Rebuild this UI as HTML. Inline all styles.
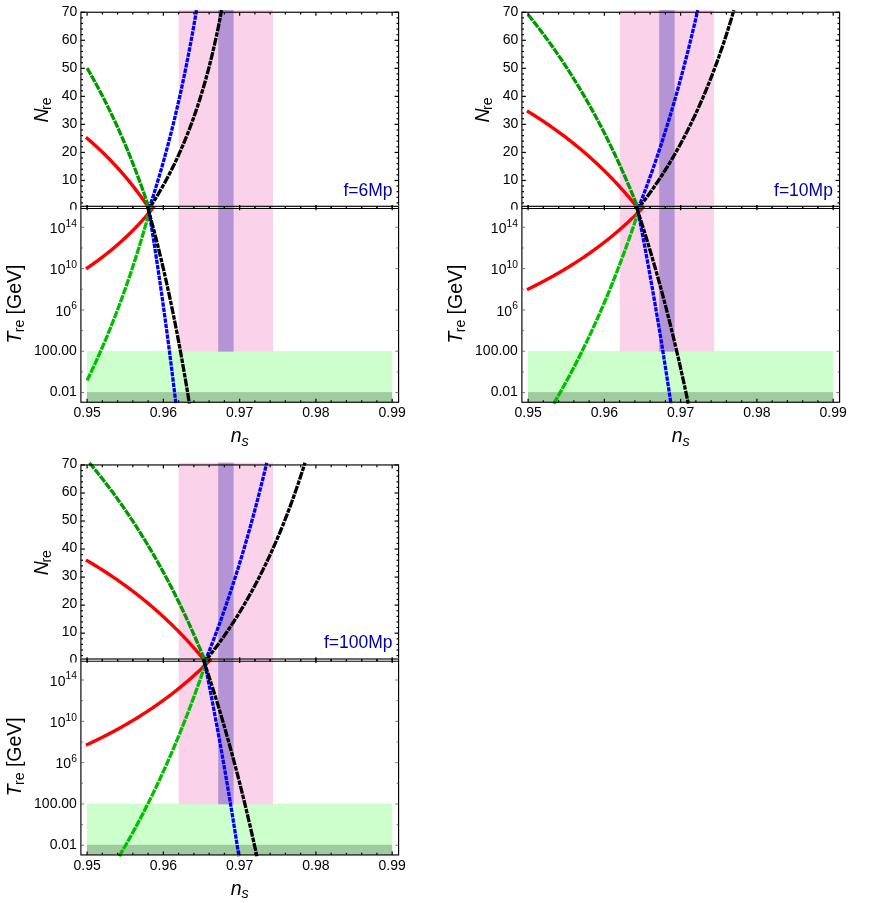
<!DOCTYPE html>
<html><head><meta charset="utf-8"><title>Reheating plots</title>
<style>
html,body{margin:0;padding:0;background:#fff;}
svg{display:block;will-change:transform;font-family:"Liberation Sans",sans-serif;}

</style></head><body>
<svg width="872" height="903" viewBox="0 0 872 903">
<rect width="872" height="903" fill="#fff"/>
<g transform="translate(0.00,0.00)">
<rect x="178.7" y="10" width="94.3" height="198.50" fill="#fad2ea"/>
<rect x="218.2" y="10" width="15.4" height="198.50" fill="#b494d5"/>
<path d="M85.96 137.32 L86.34 137.64 L86.72 137.97 L87.10 138.30 L87.49 138.62 L87.87 138.95 L88.25 139.28 L88.64 139.61 L89.02 139.95 L89.40 140.28 L89.78 140.61 L90.17 140.95 L90.55 141.29 L90.93 141.62 L91.31 141.96 L91.70 142.30 L92.08 142.64 L92.46 142.98 L92.85 143.32 L93.23 143.67 L93.61 144.01 L93.99 144.36 L94.38 144.70 L94.76 145.05 L95.14 145.40 L95.53 145.75 L95.91 146.10 L96.29 146.45 L96.67 146.80 L97.06 147.16 L97.44 147.51 L97.82 147.87 L98.20 148.22 L98.59 148.58 L98.97 148.94 L99.35 149.30 L99.74 149.66 L100.12 150.03 L100.50 150.39 L100.88 150.75 L101.27 151.12 L101.65 151.49 L102.03 151.86 L102.42 152.23 L102.80 152.60 L103.18 152.97 L103.56 153.34 L103.95 153.72 L104.33 154.09 L104.71 154.47 L105.09 154.84 L105.48 155.22 L105.86 155.60 L106.24 155.99 L106.63 156.37 L107.01 156.75 L107.39 157.14 L107.77 157.52 L108.16 157.91 L108.54 158.30 L108.92 158.69 L109.31 159.08 L109.69 159.47 L110.07 159.87 L110.45 160.26 L110.84 160.66 L111.22 161.06 L111.60 161.46 L111.98 161.86 L112.37 162.26 L112.75 162.66 L113.13 163.07 L113.52 163.47 L113.90 163.88 L114.28 164.29 L114.66 164.70 L115.05 165.11 L115.43 165.52 L115.81 165.94 L116.20 166.35 L116.58 166.77 L116.96 167.19 L117.34 167.61 L117.73 168.03 L118.11 168.45 L118.49 168.87 L118.88 169.30 L119.26 169.73 L119.64 170.16 L120.02 170.59 L120.41 171.02 L120.79 171.45 L121.17 171.89 L121.55 172.32 L121.94 172.76 L122.32 173.20 L122.70 173.64 L123.09 174.08 L123.47 174.53 L123.85 174.97 L124.23 175.42 L124.62 175.87 L125.00 176.32 L125.38 176.77 L125.77 177.22 L126.15 177.68 L126.53 178.14 L126.91 178.59 L127.30 179.05 L127.68 179.52 L128.06 179.98 L128.44 180.44 L128.83 180.91 L129.21 181.38 L129.59 181.85 L129.98 182.32 L130.36 182.80 L130.74 183.27 L131.12 183.75 L131.51 184.23 L131.89 184.71 L132.27 185.19 L132.66 185.68 L133.04 186.17 L133.42 186.65 L133.80 187.14 L134.19 187.64 L134.57 188.13 L134.95 188.63 L135.33 189.12 L135.72 189.62 L136.10 190.13 L136.48 190.63 L136.87 191.14 L137.25 191.64 L137.63 192.15 L138.01 192.66 L138.40 193.18 L138.78 193.69 L139.16 194.21 L139.55 194.73 L139.93 195.25 L140.31 195.78 L140.69 196.30 L141.08 196.83 L141.46 197.36 L141.84 197.89 L142.22 198.43 L142.61 198.97 L142.99 199.51 L143.37 200.05 L143.76 200.59 L144.14 201.14 L144.52 201.68 L144.90 202.23 L145.29 202.79 L145.67 203.34 L146.05 203.90 L146.44 204.46 L146.82 205.02 L147.20 205.58 L147.58 206.15 L147.97 206.72 L148.35 207.29 L148.73 207.86 L149.11 208.44 L149.15 208.50" fill="none" stroke="#ff0000" stroke-width="3.4"/>
<path d="M87.10 68.08 L87.48 68.74 L87.86 69.39 L88.24 70.05 L88.63 70.71 L89.01 71.37 L89.39 72.04 L89.77 72.70 L90.15 73.37 L90.53 74.04 L90.91 74.71 L91.29 75.39 L91.68 76.06 L92.06 76.74 L92.44 77.42 L92.82 78.10 L93.20 78.79 L93.58 79.47 L93.96 80.16 L94.35 80.85 L94.73 81.54 L95.11 82.23 L95.49 82.93 L95.87 83.63 L96.25 84.33 L96.63 85.03 L97.02 85.74 L97.40 86.44 L97.78 87.15 L98.16 87.86 L98.54 88.58 L98.92 89.29 L99.30 90.01 L99.68 90.73 L100.07 91.45 L100.45 92.18 L100.83 92.90 L101.21 93.63 L101.59 94.36 L101.97 95.10 L102.35 95.83 L102.74 96.57 L103.12 97.31 L103.50 98.05 L103.88 98.80 L104.26 99.55 L104.64 100.30 L105.02 101.05 L105.40 101.80 L105.79 102.56 L106.17 103.32 L106.55 104.08 L106.93 104.84 L107.31 105.61 L107.69 106.38 L108.07 107.15 L108.46 107.93 L108.84 108.70 L109.22 109.48 L109.60 110.26 L109.98 111.05 L110.36 111.84 L110.74 112.62 L111.13 113.42 L111.51 114.21 L111.89 115.01 L112.27 115.81 L112.65 116.61 L113.03 117.42 L113.41 118.22 L113.79 119.04 L114.18 119.85 L114.56 120.66 L114.94 121.48 L115.32 122.31 L115.70 123.13 L116.08 123.96 L116.46 124.79 L116.85 125.62 L117.23 126.46 L117.61 127.29 L117.99 128.14 L118.37 128.98 L118.75 129.83 L119.13 130.68 L119.51 131.53 L119.90 132.39 L120.28 133.24 L120.66 134.11 L121.04 134.97 L121.42 135.84 L121.80 136.71 L122.18 137.59 L122.57 138.46 L122.95 139.34 L123.33 140.23 L123.71 141.11 L124.09 142.00 L124.47 142.90 L124.85 143.79 L125.24 144.69 L125.62 145.59 L126.00 146.50 L126.38 147.41 L126.76 148.32 L127.14 149.24 L127.52 150.16 L127.90 151.08 L128.29 152.00 L128.67 152.93 L129.05 153.86 L129.43 154.80 L129.81 155.74 L130.19 156.68 L130.57 157.63 L130.96 158.58 L131.34 159.53 L131.72 160.49 L132.10 161.45 L132.48 162.42 L132.86 163.38 L133.24 164.36 L133.62 165.33 L134.01 166.31 L134.39 167.29 L134.77 168.28 L135.15 169.27 L135.53 170.26 L135.91 171.26 L136.29 172.26 L136.68 173.27 L137.06 174.28 L137.44 175.29 L137.82 176.31 L138.20 177.33 L138.58 178.36 L138.96 179.39 L139.34 180.42 L139.73 181.46 L140.11 182.50 L140.49 183.55 L140.87 184.60 L141.25 185.65 L141.63 186.71 L142.01 187.77 L142.40 188.84 L142.78 189.91 L143.16 190.99 L143.54 192.07 L143.92 193.15 L144.30 194.24 L144.68 195.33 L145.07 196.43 L145.45 197.53 L145.83 198.64 L146.21 199.75 L146.59 200.87 L146.97 201.99 L147.35 203.12 L147.73 204.25 L148.12 205.38 L148.50 206.52 L148.88 207.67 L149.15 208.50" fill="none" stroke="#009900" stroke-width="3.3" stroke-dasharray="7.5 1.0"/>
<path d="M149.15 208.50 L149.41 207.72 L149.72 206.79 L150.02 205.87 L150.33 204.93 L150.63 204.00 L150.94 203.06 L151.24 202.12 L151.55 201.18 L151.85 200.23 L152.16 199.28 L152.46 198.32 L152.77 197.37 L153.07 196.40 L153.38 195.44 L153.68 194.47 L153.99 193.50 L154.29 192.53 L154.60 191.55 L154.90 190.56 L155.21 189.58 L155.51 188.59 L155.82 187.60 L156.12 186.60 L156.43 185.60 L156.73 184.60 L157.04 183.59 L157.34 182.58 L157.65 181.57 L157.95 180.55 L158.26 179.53 L158.56 178.50 L158.87 177.47 L159.18 176.44 L159.48 175.40 L159.79 174.36 L160.09 173.32 L160.40 172.27 L160.70 171.21 L161.01 170.16 L161.31 169.10 L161.62 168.03 L161.92 166.96 L162.23 165.89 L162.53 164.81 L162.84 163.73 L163.14 162.65 L163.45 161.56 L163.75 160.46 L164.06 159.37 L164.36 158.26 L164.67 157.16 L164.97 156.05 L165.28 154.93 L165.58 153.81 L165.89 152.69 L166.19 151.56 L166.50 150.43 L166.80 149.29 L167.11 148.15 L167.41 147.00 L167.72 145.85 L168.02 144.69 L168.33 143.53 L168.63 142.37 L168.94 141.20 L169.24 140.02 L169.55 138.84 L169.85 137.66 L170.16 136.47 L170.46 135.27 L170.77 134.08 L171.07 132.87 L171.38 131.66 L171.68 130.45 L171.99 129.23 L172.29 128.00 L172.60 126.77 L172.90 125.54 L173.21 124.30 L173.51 123.05 L173.82 121.80 L174.12 120.55 L174.43 119.28 L174.73 118.02 L175.04 116.75 L175.34 115.47 L175.65 114.18 L175.95 112.89 L176.26 111.60 L176.56 110.30 L176.87 108.99 L177.17 107.68 L177.48 106.36 L177.79 105.04 L178.09 103.71 L178.40 102.37 L178.70 101.03 L179.01 99.68 L179.31 98.33 L179.62 96.97 L179.92 95.60 L180.23 94.23 L180.53 92.85 L180.84 91.46 L181.14 90.07 L181.45 88.67 L181.75 87.27 L182.06 85.85 L182.36 84.44 L182.67 83.01 L182.97 81.58 L183.28 80.14 L183.58 78.69 L183.89 77.24 L184.19 75.78 L184.50 74.32 L184.80 72.84 L185.11 71.36 L185.41 69.87 L185.72 68.38 L186.02 66.87 L186.33 65.36 L186.63 63.85 L186.94 62.32 L187.24 60.79 L187.55 59.25 L187.85 57.70 L188.16 56.14 L188.46 54.58 L188.77 53.01 L189.07 51.43 L189.38 49.84 L189.68 48.24 L189.99 46.64 L190.29 45.02 L190.60 43.40 L190.90 41.77 L191.21 40.13 L191.51 38.48 L191.82 36.83 L192.12 35.16 L192.43 33.49 L192.73 31.80 L193.04 30.11 L193.34 28.41 L193.65 26.70 L193.95 24.98 L194.26 23.25 L194.56 21.51 L194.87 19.76 L195.17 18.00 L195.48 16.23 L195.78 14.45 L196.09 12.66 L196.39 10.87 L196.52 10.15" fill="none" stroke="#0000ff" stroke-width="3.3" stroke-dasharray="4.4 1.0"/>
<path d="M149.15 208.50 L149.57 207.88 L150.02 207.18 L150.48 206.48 L150.94 205.78 L151.40 205.07 L151.85 204.36 L152.31 203.65 L152.77 202.93 L153.23 202.21 L153.68 201.49 L154.14 200.76 L154.60 200.02 L155.06 199.29 L155.51 198.55 L155.97 197.80 L156.43 197.05 L156.89 196.30 L157.34 195.54 L157.80 194.78 L158.26 194.01 L158.72 193.24 L159.18 192.47 L159.63 191.69 L160.09 190.91 L160.55 190.12 L161.01 189.33 L161.46 188.53 L161.92 187.73 L162.38 186.93 L162.84 186.12 L163.29 185.30 L163.75 184.48 L164.21 183.66 L164.67 182.83 L165.12 181.99 L165.58 181.16 L166.04 180.31 L166.50 179.46 L166.95 178.61 L167.41 177.75 L167.87 176.89 L168.33 176.02 L168.79 175.14 L169.24 174.26 L169.70 173.38 L170.16 172.48 L170.62 171.59 L171.07 170.69 L171.53 169.78 L171.99 168.86 L172.45 167.94 L172.90 167.02 L173.36 166.09 L173.82 165.15 L174.28 164.21 L174.73 163.26 L175.19 162.30 L175.65 161.34 L176.11 160.37 L176.56 159.40 L177.02 158.42 L177.48 157.43 L177.94 156.44 L178.40 155.44 L178.85 154.43 L179.31 153.41 L179.77 152.39 L180.23 151.36 L180.68 150.33 L181.14 149.29 L181.60 148.23 L182.06 147.18 L182.51 146.11 L182.97 145.04 L183.43 143.96 L183.89 142.87 L184.34 141.78 L184.80 140.67 L185.26 139.56 L185.72 138.44 L186.17 137.31 L186.63 136.17 L187.09 135.03 L187.55 133.87 L188.01 132.71 L188.46 131.54 L188.92 130.36 L189.38 129.17 L189.84 127.97 L190.29 126.76 L190.75 125.54 L191.21 124.32 L191.67 123.08 L192.12 121.83 L192.58 120.57 L193.04 119.31 L193.50 118.03 L193.95 116.74 L194.41 115.44 L194.87 114.13 L195.33 112.81 L195.78 111.48 L196.24 110.13 L196.70 108.78 L197.16 107.41 L197.62 106.03 L198.07 104.64 L198.53 103.24 L198.99 101.82 L199.45 100.40 L199.90 98.96 L200.36 97.50 L200.82 96.03 L201.28 94.55 L201.73 93.06 L202.19 91.55 L202.65 90.03 L203.11 88.49 L203.56 86.94 L204.02 85.37 L204.48 83.79 L204.94 82.19 L205.39 80.58 L205.85 78.95 L206.31 77.31 L206.77 75.64 L207.23 73.97 L207.68 72.27 L208.14 70.56 L208.60 68.82 L209.06 67.07 L209.51 65.30 L209.97 63.52 L210.43 61.71 L210.89 59.88 L211.34 58.03 L211.80 56.17 L212.26 54.28 L212.72 52.37 L213.17 50.44 L213.63 48.48 L214.09 46.50 L214.55 44.50 L215.00 42.48 L215.46 40.43 L215.92 38.35 L216.38 36.25 L216.84 34.13 L217.29 31.98 L217.75 29.80 L218.21 27.59 L218.67 25.35 L219.12 23.09 L219.58 20.79 L220.04 18.46 L220.50 16.10 L220.95 13.71 L221.41 11.29 L221.62 10.15" fill="none" stroke="#000000" stroke-width="3.3" stroke-dasharray="8.0 1.1 4.5 1.1"/>
<rect x="80.90" y="12.25" width="317.70" height="196.25" fill="none" stroke="#000" stroke-width="1.15"/>
<g stroke="#000" stroke-width="1.2"><line x1="87.10" y1="12.25" x2="87.10" y2="15.85"/><line x1="102.35" y1="12.25" x2="102.35" y2="14.45"/><line x1="117.61" y1="12.25" x2="117.61" y2="14.45"/><line x1="132.86" y1="12.25" x2="132.86" y2="14.45"/><line x1="148.12" y1="12.25" x2="148.12" y2="14.45"/><line x1="163.37" y1="12.25" x2="163.37" y2="15.85"/><line x1="178.62" y1="12.25" x2="178.62" y2="14.45"/><line x1="193.88" y1="12.25" x2="193.88" y2="14.45"/><line x1="209.13" y1="12.25" x2="209.13" y2="14.45"/><line x1="224.39" y1="12.25" x2="224.39" y2="14.45"/><line x1="239.64" y1="12.25" x2="239.64" y2="15.85"/><line x1="254.89" y1="12.25" x2="254.89" y2="14.45"/><line x1="270.15" y1="12.25" x2="270.15" y2="14.45"/><line x1="285.40" y1="12.25" x2="285.40" y2="14.45"/><line x1="300.66" y1="12.25" x2="300.66" y2="14.45"/><line x1="315.91" y1="12.25" x2="315.91" y2="15.85"/><line x1="331.16" y1="12.25" x2="331.16" y2="14.45"/><line x1="346.42" y1="12.25" x2="346.42" y2="14.45"/><line x1="361.67" y1="12.25" x2="361.67" y2="14.45"/><line x1="376.93" y1="12.25" x2="376.93" y2="14.45"/><line x1="392.18" y1="12.25" x2="392.18" y2="15.85"/></g>
<g stroke="#000" stroke-width="1.2"><line x1="87.10" y1="208.50" x2="87.10" y2="204.90"/><line x1="102.35" y1="208.50" x2="102.35" y2="206.30"/><line x1="117.61" y1="208.50" x2="117.61" y2="206.30"/><line x1="132.86" y1="208.50" x2="132.86" y2="206.30"/><line x1="148.12" y1="208.50" x2="148.12" y2="206.30"/><line x1="163.37" y1="208.50" x2="163.37" y2="204.90"/><line x1="178.62" y1="208.50" x2="178.62" y2="206.30"/><line x1="193.88" y1="208.50" x2="193.88" y2="206.30"/><line x1="209.13" y1="208.50" x2="209.13" y2="206.30"/><line x1="224.39" y1="208.50" x2="224.39" y2="206.30"/><line x1="239.64" y1="208.50" x2="239.64" y2="204.90"/><line x1="254.89" y1="208.50" x2="254.89" y2="206.30"/><line x1="270.15" y1="208.50" x2="270.15" y2="206.30"/><line x1="285.40" y1="208.50" x2="285.40" y2="206.30"/><line x1="300.66" y1="208.50" x2="300.66" y2="206.30"/><line x1="315.91" y1="208.50" x2="315.91" y2="204.90"/><line x1="331.16" y1="208.50" x2="331.16" y2="206.30"/><line x1="346.42" y1="208.50" x2="346.42" y2="206.30"/><line x1="361.67" y1="208.50" x2="361.67" y2="206.30"/><line x1="376.93" y1="208.50" x2="376.93" y2="206.30"/><line x1="392.18" y1="208.50" x2="392.18" y2="204.90"/></g>
<g stroke="#000" stroke-width="1.2"><line x1="80.90" y1="208.50" x2="84.90" y2="208.50"/><line x1="80.90" y1="202.89" x2="83.00" y2="202.89"/><line x1="80.90" y1="197.29" x2="83.00" y2="197.29"/><line x1="80.90" y1="191.68" x2="83.00" y2="191.68"/><line x1="80.90" y1="186.07" x2="83.00" y2="186.07"/><line x1="80.90" y1="180.46" x2="84.90" y2="180.46"/><line x1="80.90" y1="174.86" x2="83.00" y2="174.86"/><line x1="80.90" y1="169.25" x2="83.00" y2="169.25"/><line x1="80.90" y1="163.64" x2="83.00" y2="163.64"/><line x1="80.90" y1="158.04" x2="83.00" y2="158.04"/><line x1="80.90" y1="152.43" x2="84.90" y2="152.43"/><line x1="80.90" y1="146.82" x2="83.00" y2="146.82"/><line x1="80.90" y1="141.21" x2="83.00" y2="141.21"/><line x1="80.90" y1="135.61" x2="83.00" y2="135.61"/><line x1="80.90" y1="130.00" x2="83.00" y2="130.00"/><line x1="80.90" y1="124.39" x2="84.90" y2="124.39"/><line x1="80.90" y1="118.79" x2="83.00" y2="118.79"/><line x1="80.90" y1="113.18" x2="83.00" y2="113.18"/><line x1="80.90" y1="107.57" x2="83.00" y2="107.57"/><line x1="80.90" y1="101.96" x2="83.00" y2="101.96"/><line x1="80.90" y1="96.36" x2="84.90" y2="96.36"/><line x1="80.90" y1="90.75" x2="83.00" y2="90.75"/><line x1="80.90" y1="85.14" x2="83.00" y2="85.14"/><line x1="80.90" y1="79.54" x2="83.00" y2="79.54"/><line x1="80.90" y1="73.93" x2="83.00" y2="73.93"/><line x1="80.90" y1="68.32" x2="84.90" y2="68.32"/><line x1="80.90" y1="62.71" x2="83.00" y2="62.71"/><line x1="80.90" y1="57.11" x2="83.00" y2="57.11"/><line x1="80.90" y1="51.50" x2="83.00" y2="51.50"/><line x1="80.90" y1="45.89" x2="83.00" y2="45.89"/><line x1="80.90" y1="40.29" x2="84.90" y2="40.29"/><line x1="80.90" y1="34.68" x2="83.00" y2="34.68"/><line x1="80.90" y1="29.07" x2="83.00" y2="29.07"/><line x1="80.90" y1="23.46" x2="83.00" y2="23.46"/><line x1="80.90" y1="17.86" x2="83.00" y2="17.86"/><line x1="80.90" y1="12.25" x2="84.90" y2="12.25"/></g>
<g stroke="#000" stroke-width="1.2"><line x1="398.60" y1="208.50" x2="394.60" y2="208.50"/><line x1="398.60" y1="202.89" x2="396.50" y2="202.89"/><line x1="398.60" y1="197.29" x2="396.50" y2="197.29"/><line x1="398.60" y1="191.68" x2="396.50" y2="191.68"/><line x1="398.60" y1="186.07" x2="396.50" y2="186.07"/><line x1="398.60" y1="180.46" x2="394.60" y2="180.46"/><line x1="398.60" y1="174.86" x2="396.50" y2="174.86"/><line x1="398.60" y1="169.25" x2="396.50" y2="169.25"/><line x1="398.60" y1="163.64" x2="396.50" y2="163.64"/><line x1="398.60" y1="158.04" x2="396.50" y2="158.04"/><line x1="398.60" y1="152.43" x2="394.60" y2="152.43"/><line x1="398.60" y1="146.82" x2="396.50" y2="146.82"/><line x1="398.60" y1="141.21" x2="396.50" y2="141.21"/><line x1="398.60" y1="135.61" x2="396.50" y2="135.61"/><line x1="398.60" y1="130.00" x2="396.50" y2="130.00"/><line x1="398.60" y1="124.39" x2="394.60" y2="124.39"/><line x1="398.60" y1="118.79" x2="396.50" y2="118.79"/><line x1="398.60" y1="113.18" x2="396.50" y2="113.18"/><line x1="398.60" y1="107.57" x2="396.50" y2="107.57"/><line x1="398.60" y1="101.96" x2="396.50" y2="101.96"/><line x1="398.60" y1="96.36" x2="394.60" y2="96.36"/><line x1="398.60" y1="90.75" x2="396.50" y2="90.75"/><line x1="398.60" y1="85.14" x2="396.50" y2="85.14"/><line x1="398.60" y1="79.54" x2="396.50" y2="79.54"/><line x1="398.60" y1="73.93" x2="396.50" y2="73.93"/><line x1="398.60" y1="68.32" x2="394.60" y2="68.32"/><line x1="398.60" y1="62.71" x2="396.50" y2="62.71"/><line x1="398.60" y1="57.11" x2="396.50" y2="57.11"/><line x1="398.60" y1="51.50" x2="396.50" y2="51.50"/><line x1="398.60" y1="45.89" x2="396.50" y2="45.89"/><line x1="398.60" y1="40.29" x2="394.60" y2="40.29"/><line x1="398.60" y1="34.68" x2="396.50" y2="34.68"/><line x1="398.60" y1="29.07" x2="396.50" y2="29.07"/><line x1="398.60" y1="23.46" x2="396.50" y2="23.46"/><line x1="398.60" y1="17.86" x2="396.50" y2="17.86"/><line x1="398.60" y1="12.25" x2="394.60" y2="12.25"/></g>
<text x="77.3" y="211.80" text-anchor="end" font-size="14">0</text>
<text x="77.3" y="183.80" text-anchor="end" font-size="14">10</text>
<text x="77.3" y="155.80" text-anchor="end" font-size="14">20</text>
<text x="77.3" y="127.80" text-anchor="end" font-size="14">30</text>
<text x="77.3" y="99.80" text-anchor="end" font-size="14">40</text>
<text x="77.3" y="71.80" text-anchor="end" font-size="14">50</text>
<text x="77.3" y="43.80" text-anchor="end" font-size="14">60</text>
<text x="77.3" y="15.80" text-anchor="end" font-size="14">70</text>
<text x="392.6" y="195.7" text-anchor="end" font-size="17.5" fill="#0000a8">f=6Mp</text>
<text transform="translate(47.5,110) rotate(-90)" text-anchor="middle" font-size="19.5"><tspan font-style="italic">N</tspan><tspan font-size="14" dx="-1.4" dy="3.7">re</tspan></text>
<rect x="80.3" y="205.70" width="345" height="250.00" fill="#fff"/>
<rect x="0" y="209.7" width="81" height="246" fill="#fff"/>
<rect x="87.00" y="350.90" width="305.20" height="51.35" fill="#ccffcc"/>
<rect x="87.00" y="392.10" width="305.20" height="10.15" fill="#a0cba0"/>
<rect x="178.7" y="206.30" width="94.3" height="145.30" fill="#fad2ea"/>
<rect x="218.2" y="206.30" width="15.4" height="145.30" fill="#b494d5"/>
<path d="M85.96 268.88 L86.38 268.59 L86.80 268.31 L87.22 268.02 L87.64 267.74 L88.06 267.45 L88.48 267.16 L88.90 266.88 L89.32 266.59 L89.75 266.30 L90.17 266.00 L90.59 265.71 L91.01 265.42 L91.43 265.13 L91.85 264.83 L92.27 264.53 L92.69 264.24 L93.11 263.94 L93.53 263.64 L93.96 263.34 L94.38 263.04 L94.80 262.74 L95.22 262.43 L95.64 262.13 L96.06 261.83 L96.48 261.52 L96.90 261.21 L97.32 260.90 L97.75 260.59 L98.17 260.28 L98.59 259.97 L99.01 259.66 L99.43 259.35 L99.85 259.03 L100.27 258.72 L100.69 258.40 L101.11 258.08 L101.54 257.76 L101.96 257.44 L102.38 257.12 L102.80 256.80 L103.22 256.48 L103.64 256.15 L104.06 255.83 L104.48 255.50 L104.90 255.17 L105.32 254.84 L105.75 254.51 L106.17 254.18 L106.59 253.85 L107.01 253.52 L107.43 253.18 L107.85 252.85 L108.27 252.51 L108.69 252.17 L109.11 251.83 L109.54 251.49 L109.96 251.15 L110.38 250.80 L110.80 250.46 L111.22 250.11 L111.64 249.77 L112.06 249.42 L112.48 249.07 L112.90 248.72 L113.32 248.36 L113.75 248.01 L114.17 247.66 L114.59 247.30 L115.01 246.94 L115.43 246.58 L115.85 246.22 L116.27 245.86 L116.69 245.50 L117.11 245.13 L117.54 244.77 L117.96 244.40 L118.38 244.03 L118.80 243.66 L119.22 243.29 L119.64 242.92 L120.06 242.54 L120.48 242.17 L120.90 241.79 L121.32 241.41 L121.75 241.03 L122.17 240.65 L122.59 240.27 L123.01 239.88 L123.43 239.50 L123.85 239.11 L124.27 238.72 L124.69 238.33 L125.11 237.94 L125.54 237.54 L125.96 237.15 L126.38 236.75 L126.80 236.35 L127.22 235.95 L127.64 235.55 L128.06 235.15 L128.48 234.74 L128.90 234.34 L129.32 233.93 L129.75 233.52 L130.17 233.11 L130.59 232.69 L131.01 232.28 L131.43 231.86 L131.85 231.44 L132.27 231.02 L132.69 230.60 L133.11 230.18 L133.54 229.75 L133.96 229.32 L134.38 228.90 L134.80 228.46 L135.22 228.03 L135.64 227.60 L136.06 227.16 L136.48 226.72 L136.90 226.28 L137.33 225.84 L137.75 225.40 L138.17 224.95 L138.59 224.50 L139.01 224.05 L139.43 223.60 L139.85 223.15 L140.27 222.69 L140.69 222.23 L141.11 221.77 L141.54 221.31 L141.96 220.85 L142.38 220.38 L142.80 219.91 L143.22 219.44 L143.64 218.97 L144.06 218.50 L144.48 218.02 L144.90 217.54 L145.33 217.06 L145.75 216.58 L146.17 216.09 L146.59 215.60 L147.01 215.11 L147.43 214.62 L147.85 214.12 L148.27 213.63 L148.69 213.13 L149.11 212.63 L149.54 212.12 L149.96 211.62 L150.38 211.11 L150.80 210.60 L151.22 210.08 L151.64 209.57 L152.06 209.05 L152.48 208.53 L152.90 208.00 L153.33 207.48 L153.75 206.95 L154.17 206.42 L154.26 206.30" fill="none" stroke="#ff0000" stroke-width="3.4"/>
<path d="M87.10 380.42 L87.52 379.56 L87.94 378.70 L88.36 377.84 L88.78 376.97 L89.20 376.10 L89.62 375.22 L90.04 374.35 L90.46 373.47 L90.88 372.58 L91.29 371.70 L91.71 370.81 L92.13 369.92 L92.55 369.02 L92.97 368.13 L93.39 367.23 L93.81 366.32 L94.23 365.42 L94.65 364.51 L95.07 363.60 L95.49 362.68 L95.91 361.76 L96.33 360.84 L96.75 359.92 L97.17 358.99 L97.59 358.06 L98.01 357.13 L98.43 356.19 L98.85 355.25 L99.27 354.31 L99.68 353.36 L100.10 352.41 L100.52 351.46 L100.94 350.50 L101.36 349.54 L101.78 348.58 L102.20 347.62 L102.62 346.65 L103.04 345.67 L103.46 344.70 L103.88 343.72 L104.30 342.74 L104.72 341.75 L105.14 340.76 L105.56 339.77 L105.98 338.77 L106.40 337.77 L106.82 336.77 L107.24 335.76 L107.65 334.75 L108.07 333.74 L108.49 332.72 L108.91 331.70 L109.33 330.67 L109.75 329.64 L110.17 328.61 L110.59 327.57 L111.01 326.53 L111.43 325.49 L111.85 324.44 L112.27 323.39 L112.69 322.33 L113.11 321.27 L113.53 320.21 L113.95 319.14 L114.37 318.07 L114.79 317.00 L115.21 315.92 L115.62 314.84 L116.04 313.75 L116.46 312.66 L116.88 311.56 L117.30 310.46 L117.72 309.36 L118.14 308.25 L118.56 307.14 L118.98 306.03 L119.40 304.90 L119.82 303.78 L120.24 302.65 L120.66 301.52 L121.08 300.38 L121.50 299.24 L121.92 298.09 L122.34 296.94 L122.76 295.79 L123.18 294.63 L123.60 293.46 L124.01 292.29 L124.43 291.12 L124.85 289.94 L125.27 288.76 L125.69 287.57 L126.11 286.38 L126.53 285.18 L126.95 283.98 L127.37 282.77 L127.79 281.56 L128.21 280.35 L128.63 279.13 L129.05 277.90 L129.47 276.67 L129.89 275.43 L130.31 274.19 L130.73 272.95 L131.15 271.69 L131.57 270.44 L131.98 269.18 L132.40 267.91 L132.82 266.64 L133.24 265.36 L133.66 264.08 L134.08 262.79 L134.50 261.49 L134.92 260.20 L135.34 258.89 L135.76 257.58 L136.18 256.27 L136.60 254.94 L137.02 253.62 L137.44 252.28 L137.86 250.95 L138.28 249.60 L138.70 248.25 L139.12 246.90 L139.54 245.53 L139.96 244.17 L140.37 242.79 L140.79 241.41 L141.21 240.03 L141.63 238.63 L142.05 237.24 L142.47 235.83 L142.89 234.42 L143.31 233.00 L143.73 231.58 L144.15 230.15 L144.57 228.71 L144.99 227.27 L145.41 225.82 L145.83 224.37 L146.25 222.90 L146.67 221.43 L147.09 219.96 L147.51 218.48 L147.93 216.99 L148.34 215.49 L148.76 213.98 L149.18 212.47 L149.60 210.96 L150.02 209.43 L150.44 207.90 L150.86 206.36 L150.88 206.30" fill="none" stroke="#00be00" stroke-width="3.3" stroke-dasharray="7.5 1.0"/>
<path d="M148.11 206.30 L148.23 207.02 L148.38 207.93 L148.54 208.85 L148.69 209.77 L148.84 210.68 L148.99 211.60 L149.15 212.53 L149.30 213.45 L149.45 214.37 L149.60 215.30 L149.76 216.23 L149.91 217.16 L150.06 218.09 L150.21 219.02 L150.37 219.96 L150.52 220.89 L150.67 221.83 L150.82 222.77 L150.98 223.71 L151.13 224.66 L151.28 225.60 L151.43 226.55 L151.59 227.49 L151.74 228.44 L151.89 229.39 L152.04 230.35 L152.20 231.30 L152.35 232.26 L152.50 233.21 L152.65 234.17 L152.81 235.13 L152.96 236.10 L153.11 237.06 L153.26 238.03 L153.42 238.99 L153.57 239.96 L153.72 240.93 L153.87 241.91 L154.03 242.88 L154.18 243.86 L154.33 244.84 L154.48 245.82 L154.64 246.80 L154.79 247.78 L154.94 248.77 L155.09 249.75 L155.25 250.74 L155.40 251.73 L155.55 252.72 L155.70 253.72 L155.86 254.71 L156.01 255.71 L156.16 256.71 L156.32 257.71 L156.47 258.71 L156.62 259.72 L156.77 260.73 L156.93 261.73 L157.08 262.74 L157.23 263.76 L157.38 264.77 L157.54 265.79 L157.69 266.80 L157.84 267.82 L157.99 268.85 L158.15 269.87 L158.30 270.89 L158.45 271.92 L158.60 272.95 L158.76 273.98 L158.91 275.01 L159.06 276.05 L159.21 277.08 L159.37 278.12 L159.52 279.16 L159.67 280.21 L159.82 281.25 L159.98 282.30 L160.13 283.35 L160.28 284.40 L160.43 285.45 L160.59 286.50 L160.74 287.56 L160.89 288.62 L161.04 289.68 L161.20 290.74 L161.35 291.80 L161.50 292.87 L161.65 293.94 L161.81 295.01 L161.96 296.08 L162.11 297.15 L162.26 298.23 L162.42 299.31 L162.57 300.39 L162.72 301.47 L162.87 302.56 L163.03 303.64 L163.18 304.73 L163.33 305.82 L163.48 306.92 L163.64 308.01 L163.79 309.11 L163.94 310.21 L164.09 311.31 L164.25 312.41 L164.40 313.52 L164.55 314.63 L164.70 315.74 L164.86 316.85 L165.01 317.96 L165.16 319.08 L165.31 320.20 L165.47 321.32 L165.62 322.44 L165.77 323.57 L165.93 324.70 L166.08 325.83 L166.23 326.96 L166.38 328.10 L166.54 329.23 L166.69 330.37 L166.84 331.51 L166.99 332.66 L167.15 333.80 L167.30 334.95 L167.45 336.10 L167.60 337.25 L167.76 338.41 L167.91 339.57 L168.06 340.73 L168.21 341.89 L168.37 343.05 L168.52 344.22 L168.67 345.39 L168.82 346.56 L168.98 347.73 L169.13 348.91 L169.28 350.09 L169.43 351.27 L169.59 352.45 L169.74 353.64 L169.89 354.83 L170.04 356.02 L170.20 357.21 L170.35 358.41 L170.50 359.61 L170.65 360.81 L170.81 362.01 L170.96 363.22 L171.11 364.42 L171.26 365.63 L171.42 366.85 L171.57 368.06 L171.72 369.28 L171.87 370.50 L172.03 371.73 L172.18 372.95 L172.33 374.18 L172.48 375.41 L172.64 376.65 L172.79 377.88 L172.94 379.12 L173.09 380.36 L173.25 381.61 L173.40 382.86 L173.55 384.11 L173.70 385.36 L173.86 386.61 L174.01 387.87 L174.16 389.13 L174.31 390.39 L174.47 391.66 L174.62 392.93 L174.77 394.20 L174.92 395.48 L175.08 396.75 L175.23 398.03 L175.38 399.31 L175.54 400.60 L175.69 401.89 L175.84 403.18 L175.88 403.55" fill="none" stroke="#0000ff" stroke-width="3.3" stroke-dasharray="4.4 1.0"/>
<path d="M147.41 206.30 L147.66 207.19 L147.93 208.14 L148.19 209.10 L148.46 210.06 L148.73 211.03 L148.99 211.99 L149.26 212.96 L149.53 213.94 L149.79 214.91 L150.06 215.89 L150.33 216.87 L150.59 217.86 L150.86 218.84 L151.13 219.83 L151.40 220.83 L151.66 221.82 L151.93 222.82 L152.20 223.83 L152.46 224.83 L152.73 225.84 L153.00 226.85 L153.26 227.87 L153.53 228.89 L153.80 229.91 L154.07 230.93 L154.33 231.96 L154.60 232.99 L154.87 234.03 L155.13 235.06 L155.40 236.10 L155.67 237.15 L155.93 238.19 L156.20 239.24 L156.47 240.30 L156.73 241.36 L157.00 242.42 L157.27 243.48 L157.54 244.55 L157.80 245.62 L158.07 246.69 L158.34 247.77 L158.60 248.85 L158.87 249.94 L159.14 251.02 L159.40 252.12 L159.67 253.21 L159.94 254.31 L160.20 255.41 L160.47 256.52 L160.74 257.63 L161.01 258.74 L161.27 259.86 L161.54 260.98 L161.81 262.10 L162.07 263.23 L162.34 264.36 L162.61 265.50 L162.87 266.64 L163.14 267.78 L163.41 268.93 L163.68 270.08 L163.94 271.24 L164.21 272.40 L164.48 273.56 L164.74 274.72 L165.01 275.90 L165.28 277.07 L165.54 278.25 L165.81 279.43 L166.08 280.62 L166.34 281.81 L166.61 283.01 L166.88 284.21 L167.15 285.41 L167.41 286.62 L167.68 287.83 L167.95 289.05 L168.21 290.27 L168.48 291.49 L168.75 292.72 L169.01 293.96 L169.28 295.20 L169.55 296.44 L169.81 297.69 L170.08 298.94 L170.35 300.19 L170.62 301.45 L170.88 302.72 L171.15 303.99 L171.42 305.26 L171.68 306.54 L171.95 307.83 L172.22 309.12 L172.48 310.41 L172.75 311.71 L173.02 313.01 L173.29 314.32 L173.55 315.63 L173.82 316.95 L174.09 318.27 L174.35 319.60 L174.62 320.93 L174.89 322.27 L175.15 323.61 L175.42 324.96 L175.69 326.31 L175.95 327.67 L176.22 329.04 L176.49 330.41 L176.76 331.78 L177.02 333.16 L177.29 334.54 L177.56 335.93 L177.82 337.33 L178.09 338.73 L178.36 340.14 L178.62 341.55 L178.89 342.97 L179.16 344.39 L179.42 345.82 L179.69 347.25 L179.96 348.69 L180.23 350.14 L180.49 351.59 L180.76 353.05 L181.03 354.52 L181.29 355.99 L181.56 357.46 L181.83 358.94 L182.09 360.43 L182.36 361.93 L182.63 363.43 L182.90 364.93 L183.16 366.45 L183.43 367.96 L183.70 369.49 L183.96 371.02 L184.23 372.56 L184.50 374.11 L184.76 375.66 L185.03 377.22 L185.30 378.78 L185.56 380.35 L185.83 381.93 L186.10 383.51 L186.37 385.11 L186.63 386.71 L186.90 388.31 L187.17 389.92 L187.43 391.54 L187.70 393.17 L187.97 394.81 L188.23 396.45 L188.50 398.10 L188.77 399.75 L189.03 401.42 L189.30 403.09 L189.38 403.55" fill="none" stroke="#000000" stroke-width="3.3" stroke-dasharray="8.0 1.1 4.5 1.1"/>
<rect x="80.90" y="206.30" width="317.70" height="195.95" fill="none" stroke="#000" stroke-width="1.15"/>
<line x1="80.90" y1="208.50" x2="398.60" y2="208.50" stroke="#000" stroke-width="1.15"/>
<g stroke="#000" stroke-width="1.2"><line x1="87.10" y1="208.50" x2="87.10" y2="204.90"/><line x1="102.35" y1="208.50" x2="102.35" y2="206.30"/><line x1="117.61" y1="208.50" x2="117.61" y2="206.30"/><line x1="132.86" y1="208.50" x2="132.86" y2="206.30"/><line x1="148.12" y1="208.50" x2="148.12" y2="206.30"/><line x1="163.37" y1="208.50" x2="163.37" y2="204.90"/><line x1="178.62" y1="208.50" x2="178.62" y2="206.30"/><line x1="193.88" y1="208.50" x2="193.88" y2="206.30"/><line x1="209.13" y1="208.50" x2="209.13" y2="206.30"/><line x1="224.39" y1="208.50" x2="224.39" y2="206.30"/><line x1="239.64" y1="208.50" x2="239.64" y2="204.90"/><line x1="254.89" y1="208.50" x2="254.89" y2="206.30"/><line x1="270.15" y1="208.50" x2="270.15" y2="206.30"/><line x1="285.40" y1="208.50" x2="285.40" y2="206.30"/><line x1="300.66" y1="208.50" x2="300.66" y2="206.30"/><line x1="315.91" y1="208.50" x2="315.91" y2="204.90"/><line x1="331.16" y1="208.50" x2="331.16" y2="206.30"/><line x1="346.42" y1="208.50" x2="346.42" y2="206.30"/><line x1="361.67" y1="208.50" x2="361.67" y2="206.30"/><line x1="376.93" y1="208.50" x2="376.93" y2="206.30"/><line x1="392.18" y1="208.50" x2="392.18" y2="204.90"/></g>
<g stroke="#000" stroke-width="1.2"><line x1="87.10" y1="206.30" x2="87.10" y2="210.30"/><line x1="102.35" y1="206.30" x2="102.35" y2="208.50"/><line x1="117.61" y1="206.30" x2="117.61" y2="208.50"/><line x1="132.86" y1="206.30" x2="132.86" y2="208.50"/><line x1="148.12" y1="206.30" x2="148.12" y2="208.50"/><line x1="163.37" y1="206.30" x2="163.37" y2="210.30"/><line x1="178.62" y1="206.30" x2="178.62" y2="208.50"/><line x1="193.88" y1="206.30" x2="193.88" y2="208.50"/><line x1="209.13" y1="206.30" x2="209.13" y2="208.50"/><line x1="224.39" y1="206.30" x2="224.39" y2="208.50"/><line x1="239.64" y1="206.30" x2="239.64" y2="210.30"/><line x1="254.89" y1="206.30" x2="254.89" y2="208.50"/><line x1="270.15" y1="206.30" x2="270.15" y2="208.50"/><line x1="285.40" y1="206.30" x2="285.40" y2="208.50"/><line x1="300.66" y1="206.30" x2="300.66" y2="208.50"/><line x1="315.91" y1="206.30" x2="315.91" y2="210.30"/><line x1="331.16" y1="206.30" x2="331.16" y2="208.50"/><line x1="346.42" y1="206.30" x2="346.42" y2="208.50"/><line x1="361.67" y1="206.30" x2="361.67" y2="208.50"/><line x1="376.93" y1="206.30" x2="376.93" y2="208.50"/><line x1="392.18" y1="206.30" x2="392.18" y2="210.30"/></g>
<g stroke="#000" stroke-width="1.2"><line x1="87.10" y1="402.25" x2="87.10" y2="398.85"/><line x1="102.35" y1="402.25" x2="102.35" y2="400.15"/><line x1="117.61" y1="402.25" x2="117.61" y2="400.15"/><line x1="132.86" y1="402.25" x2="132.86" y2="400.15"/><line x1="148.12" y1="402.25" x2="148.12" y2="400.15"/><line x1="163.37" y1="402.25" x2="163.37" y2="398.85"/><line x1="178.62" y1="402.25" x2="178.62" y2="400.15"/><line x1="193.88" y1="402.25" x2="193.88" y2="400.15"/><line x1="209.13" y1="402.25" x2="209.13" y2="400.15"/><line x1="224.39" y1="402.25" x2="224.39" y2="400.15"/><line x1="239.64" y1="402.25" x2="239.64" y2="398.85"/><line x1="254.89" y1="402.25" x2="254.89" y2="400.15"/><line x1="270.15" y1="402.25" x2="270.15" y2="400.15"/><line x1="285.40" y1="402.25" x2="285.40" y2="400.15"/><line x1="300.66" y1="402.25" x2="300.66" y2="400.15"/><line x1="315.91" y1="402.25" x2="315.91" y2="398.85"/><line x1="331.16" y1="402.25" x2="331.16" y2="400.15"/><line x1="346.42" y1="402.25" x2="346.42" y2="400.15"/><line x1="361.67" y1="402.25" x2="361.67" y2="400.15"/><line x1="376.93" y1="402.25" x2="376.93" y2="400.15"/><line x1="392.18" y1="402.25" x2="392.18" y2="398.85"/></g>
<g stroke="#555" stroke-width="0.8"><line x1="80.90" y1="392.55" x2="84.10" y2="392.55"/><line x1="80.90" y1="371.89" x2="82.90" y2="371.89"/><line x1="80.90" y1="351.24" x2="84.10" y2="351.24"/><line x1="80.90" y1="330.58" x2="82.90" y2="330.58"/><line x1="80.90" y1="309.93" x2="84.10" y2="309.93"/><line x1="80.90" y1="289.27" x2="82.90" y2="289.27"/><line x1="80.90" y1="268.62" x2="84.10" y2="268.62"/><line x1="80.90" y1="247.96" x2="82.90" y2="247.96"/><line x1="80.90" y1="227.31" x2="84.10" y2="227.31"/></g>
<g stroke="#555" stroke-width="0.8"><line x1="398.60" y1="392.55" x2="395.40" y2="392.55"/><line x1="398.60" y1="371.89" x2="396.60" y2="371.89"/><line x1="398.60" y1="351.24" x2="395.40" y2="351.24"/><line x1="398.60" y1="330.58" x2="396.60" y2="330.58"/><line x1="398.60" y1="309.93" x2="395.40" y2="309.93"/><line x1="398.60" y1="289.27" x2="396.60" y2="289.27"/><line x1="398.60" y1="268.62" x2="395.40" y2="268.62"/><line x1="398.60" y1="247.96" x2="396.60" y2="247.96"/><line x1="398.60" y1="227.31" x2="395.40" y2="227.31"/></g>
<text x="87.10" y="417" text-anchor="middle" font-size="14">0.95</text>
<text x="163.37" y="417" text-anchor="middle" font-size="14">0.96</text>
<text x="239.64" y="417" text-anchor="middle" font-size="14">0.97</text>
<text x="315.91" y="417" text-anchor="middle" font-size="14">0.98</text>
<text x="392.18" y="417" text-anchor="middle" font-size="14">0.99</text>
<text x="76.9" y="233.00" text-anchor="end" font-size="14">10<tspan font-size="10.3" dy="-6.3">14</tspan></text>
<text x="76.9" y="274.30" text-anchor="end" font-size="14">10<tspan font-size="10.3" dy="-6.3">10</tspan></text>
<text x="76.9" y="315.70" text-anchor="end" font-size="14">10<tspan font-size="10.3" dy="-6.3">6</tspan></text>
<text x="76.9" y="354.99" text-anchor="end" font-size="14">100.00</text>
<text x="76.9" y="396.30" text-anchor="end" font-size="14">0.01</text>
<text transform="translate(20.6,304) rotate(-90)" text-anchor="middle" font-size="19.5"><tspan font-style="italic">T</tspan><tspan font-size="14" dx="-0.7" dy="3.5">re</tspan><tspan dy="-3.5"> [GeV]</tspan></text>
<text x="239.8" y="442.3" text-anchor="middle" font-size="19.5"><tspan font-style="italic">n</tspan><tspan font-style="italic" font-size="14.5" dy="3.2">s</tspan></text>
</g>
<g transform="translate(441.00,0.00)">
<rect x="178.7" y="10" width="94.3" height="198.50" fill="#fad2ea"/>
<rect x="218.2" y="10" width="15.4" height="198.50" fill="#b494d5"/>
<path d="M85.96 110.87 L86.64 111.30 L87.33 111.72 L88.02 112.14 L88.71 112.57 L89.40 113.00 L90.09 113.43 L90.78 113.86 L91.47 114.29 L92.16 114.72 L92.85 115.16 L93.53 115.60 L94.22 116.04 L94.91 116.48 L95.60 116.92 L96.29 117.37 L96.98 117.81 L97.67 118.26 L98.36 118.71 L99.05 119.16 L99.74 119.61 L100.43 120.07 L101.11 120.52 L101.80 120.98 L102.49 121.44 L103.18 121.91 L103.87 122.37 L104.56 122.84 L105.25 123.30 L105.94 123.77 L106.63 124.24 L107.32 124.72 L108.00 125.19 L108.69 125.67 L109.38 126.15 L110.07 126.63 L110.76 127.11 L111.45 127.60 L112.14 128.08 L112.83 128.57 L113.52 129.06 L114.21 129.55 L114.89 130.05 L115.58 130.55 L116.27 131.04 L116.96 131.55 L117.65 132.05 L118.34 132.55 L119.03 133.06 L119.72 133.57 L120.41 134.08 L121.10 134.59 L121.78 135.11 L122.47 135.63 L123.16 136.15 L123.85 136.67 L124.54 137.19 L125.23 137.72 L125.92 138.25 L126.61 138.78 L127.30 139.31 L127.99 139.85 L128.67 140.39 L129.36 140.93 L130.05 141.47 L130.74 142.01 L131.43 142.56 L132.12 143.11 L132.81 143.66 L133.50 144.22 L134.19 144.77 L134.88 145.33 L135.56 145.89 L136.25 146.46 L136.94 147.02 L137.63 147.59 L138.32 148.16 L139.01 148.74 L139.70 149.31 L140.39 149.89 L141.08 150.47 L141.77 151.06 L142.45 151.65 L143.14 152.23 L143.83 152.83 L144.52 153.42 L145.21 154.02 L145.90 154.62 L146.59 155.22 L147.28 155.83 L147.97 156.44 L148.66 157.05 L149.34 157.66 L150.03 158.28 L150.72 158.90 L151.41 159.52 L152.10 160.14 L152.79 160.77 L153.48 161.40 L154.17 162.04 L154.86 162.68 L155.55 163.32 L156.23 163.96 L156.92 164.60 L157.61 165.25 L158.30 165.91 L158.99 166.56 L159.68 167.22 L160.37 167.88 L161.06 168.55 L161.75 169.21 L162.44 169.88 L163.12 170.56 L163.81 171.24 L164.50 171.92 L165.19 172.60 L165.88 173.29 L166.57 173.98 L167.26 174.67 L167.95 175.37 L168.64 176.07 L169.33 176.78 L170.01 177.48 L170.70 178.20 L171.39 178.91 L172.08 179.63 L172.77 180.35 L173.46 181.08 L174.15 181.81 L174.84 182.54 L175.53 183.28 L176.22 184.02 L176.90 184.76 L177.59 185.51 L178.28 186.26 L178.97 187.02 L179.66 187.78 L180.35 188.54 L181.04 189.31 L181.73 190.08 L182.42 190.85 L183.11 191.63 L183.79 192.42 L184.48 193.20 L185.17 194.00 L185.86 194.79 L186.55 195.59 L187.24 196.40 L187.93 197.20 L188.62 198.02 L189.31 198.83 L190.00 199.66 L190.68 200.48 L191.37 201.31 L192.06 202.15 L192.75 202.99 L193.44 203.83 L194.13 204.68 L194.82 205.53 L195.51 206.39 L196.20 207.25 L196.89 208.12 L197.19 208.50" fill="none" stroke="#ff0000" stroke-width="3.4"/>
<path d="M87.10 14.65 L87.79 15.49 L88.47 16.34 L89.16 17.19 L89.85 18.05 L90.53 18.91 L91.22 19.77 L91.91 20.63 L92.59 21.50 L93.28 22.37 L93.96 23.24 L94.65 24.12 L95.34 25.00 L96.02 25.89 L96.71 26.77 L97.40 27.66 L98.08 28.56 L98.77 29.46 L99.46 30.36 L100.14 31.26 L100.83 32.17 L101.52 33.08 L102.20 34.00 L102.89 34.92 L103.57 35.84 L104.26 36.77 L104.95 37.70 L105.63 38.63 L106.32 39.57 L107.01 40.51 L107.69 41.45 L108.38 42.40 L109.07 43.36 L109.75 44.31 L110.44 45.27 L111.13 46.24 L111.81 47.20 L112.50 48.18 L113.18 49.15 L113.87 50.13 L114.56 51.11 L115.24 52.10 L115.93 53.09 L116.62 54.09 L117.30 55.09 L117.99 56.09 L118.68 57.10 L119.36 58.11 L120.05 59.13 L120.74 60.15 L121.42 61.18 L122.11 62.21 L122.79 63.24 L123.48 64.28 L124.17 65.32 L124.85 66.37 L125.54 67.42 L126.23 68.47 L126.91 69.53 L127.60 70.60 L128.29 71.67 L128.97 72.74 L129.66 73.82 L130.35 74.90 L131.03 75.99 L131.72 77.08 L132.40 78.18 L133.09 79.28 L133.78 80.38 L134.46 81.49 L135.15 82.61 L135.84 83.73 L136.52 84.86 L137.21 85.99 L137.90 87.12 L138.58 88.26 L139.27 89.41 L139.96 90.56 L140.64 91.71 L141.33 92.87 L142.01 94.04 L142.70 95.21 L143.39 96.39 L144.07 97.57 L144.76 98.76 L145.45 99.95 L146.13 101.15 L146.82 102.35 L147.51 103.56 L148.19 104.77 L148.88 105.99 L149.57 107.22 L150.25 108.45 L150.94 109.68 L151.62 110.93 L152.31 112.17 L153.00 113.43 L153.68 114.69 L154.37 115.95 L155.06 117.22 L155.74 118.50 L156.43 119.78 L157.12 121.07 L157.80 122.37 L158.49 123.67 L159.18 124.97 L159.86 126.29 L160.55 127.61 L161.23 128.93 L161.92 130.27 L162.61 131.60 L163.29 132.95 L163.98 134.30 L164.67 135.66 L165.35 137.02 L166.04 138.40 L166.73 139.77 L167.41 141.16 L168.10 142.55 L168.79 143.95 L169.47 145.35 L170.16 146.76 L170.84 148.18 L171.53 149.61 L172.22 151.04 L172.90 152.48 L173.59 153.93 L174.28 155.39 L174.96 156.85 L175.65 158.32 L176.34 159.79 L177.02 161.28 L177.71 162.77 L178.40 164.27 L179.08 165.78 L179.77 167.29 L180.45 168.81 L181.14 170.34 L181.83 171.88 L182.51 173.43 L183.20 174.98 L183.89 176.54 L184.57 178.11 L185.26 179.69 L185.95 181.28 L186.63 182.87 L187.32 184.48 L188.01 186.09 L188.69 187.71 L189.38 189.34 L190.06 190.98 L190.75 192.62 L191.44 194.28 L192.12 195.94 L192.81 197.62 L193.50 199.30 L194.18 200.99 L194.87 202.69 L195.56 204.40 L196.24 206.12 L196.93 207.85 L197.19 208.50" fill="none" stroke="#009900" stroke-width="3.3" stroke-dasharray="7.5 1.0"/>
<path d="M197.19 208.50 L197.54 207.61 L197.92 206.64 L198.30 205.66 L198.68 204.69 L199.06 203.71 L199.45 202.73 L199.83 201.75 L200.21 200.76 L200.59 199.77 L200.97 198.77 L201.35 197.78 L201.73 196.78 L202.12 195.78 L202.50 194.77 L202.88 193.76 L203.26 192.75 L203.64 191.73 L204.02 190.71 L204.40 189.69 L204.78 188.67 L205.17 187.64 L205.55 186.61 L205.93 185.57 L206.31 184.54 L206.69 183.49 L207.07 182.45 L207.45 181.40 L207.84 180.35 L208.22 179.29 L208.60 178.24 L208.98 177.18 L209.36 176.11 L209.74 175.04 L210.12 173.97 L210.50 172.89 L210.89 171.82 L211.27 170.73 L211.65 169.65 L212.03 168.56 L212.41 167.47 L212.79 166.37 L213.17 165.27 L213.56 164.16 L213.94 163.06 L214.32 161.95 L214.70 160.83 L215.08 159.71 L215.46 158.59 L215.84 157.47 L216.23 156.34 L216.61 155.20 L216.99 154.07 L217.37 152.92 L217.75 151.78 L218.13 150.63 L218.51 149.48 L218.89 148.32 L219.28 147.16 L219.66 146.00 L220.04 144.83 L220.42 143.66 L220.80 142.48 L221.18 141.30 L221.56 140.12 L221.95 138.93 L222.33 137.74 L222.71 136.54 L223.09 135.34 L223.47 134.14 L223.85 132.93 L224.23 131.71 L224.61 130.50 L225.00 129.28 L225.38 128.05 L225.76 126.82 L226.14 125.59 L226.52 124.35 L226.90 123.10 L227.28 121.86 L227.67 120.61 L228.05 119.35 L228.43 118.09 L228.81 116.82 L229.19 115.56 L229.57 114.28 L229.95 113.00 L230.34 111.72 L230.72 110.43 L231.10 109.14 L231.48 107.84 L231.86 106.54 L232.24 105.24 L232.62 103.92 L233.00 102.61 L233.39 101.29 L233.77 99.96 L234.15 98.63 L234.53 97.30 L234.91 95.96 L235.29 94.61 L235.67 93.26 L236.06 91.91 L236.44 90.55 L236.82 89.19 L237.20 87.82 L237.58 86.44 L237.96 85.06 L238.34 83.68 L238.72 82.29 L239.11 80.89 L239.49 79.49 L239.87 78.08 L240.25 76.67 L240.63 75.26 L241.01 73.84 L241.39 72.41 L241.78 70.98 L242.16 69.54 L242.54 68.09 L242.92 66.64 L243.30 65.19 L243.68 63.73 L244.06 62.26 L244.45 60.79 L244.83 59.32 L245.21 57.83 L245.59 56.34 L245.97 54.85 L246.35 53.35 L246.73 51.84 L247.11 50.33 L247.50 48.81 L247.88 47.29 L248.26 45.76 L248.64 44.23 L249.02 42.68 L249.40 41.14 L249.78 39.58 L250.17 38.02 L250.55 36.45 L250.93 34.88 L251.31 33.30 L251.69 31.72 L252.07 30.13 L252.45 28.53 L252.83 26.92 L253.22 25.31 L253.60 23.69 L253.98 22.07 L254.36 20.44 L254.74 18.80 L255.12 17.16 L255.50 15.51 L255.89 13.85 L256.27 12.18 L256.65 10.51 L256.73 10.15" fill="none" stroke="#0000ff" stroke-width="3.3" stroke-dasharray="4.4 1.0"/>
<path d="M197.19 208.50 L197.77 207.76 L198.38 206.98 L198.99 206.20 L199.60 205.42 L200.21 204.63 L200.82 203.84 L201.43 203.04 L202.04 202.24 L202.65 201.43 L203.26 200.62 L203.87 199.81 L204.48 198.99 L205.09 198.17 L205.70 197.35 L206.31 196.52 L206.92 195.68 L207.53 194.85 L208.14 194.00 L208.75 193.16 L209.36 192.31 L209.97 191.45 L210.58 190.59 L211.19 189.73 L211.80 188.86 L212.41 187.98 L213.02 187.10 L213.63 186.22 L214.24 185.33 L214.85 184.44 L215.46 183.55 L216.07 182.64 L216.68 181.74 L217.29 180.83 L217.90 179.91 L218.51 178.99 L219.12 178.06 L219.73 177.13 L220.34 176.20 L220.95 175.26 L221.56 174.31 L222.17 173.36 L222.78 172.40 L223.39 171.44 L224.00 170.47 L224.61 169.50 L225.22 168.52 L225.84 167.54 L226.45 166.55 L227.06 165.55 L227.67 164.55 L228.28 163.55 L228.89 162.54 L229.50 161.52 L230.11 160.50 L230.72 159.47 L231.33 158.43 L231.94 157.39 L232.55 156.34 L233.16 155.29 L233.77 154.23 L234.38 153.17 L234.99 152.10 L235.60 151.02 L236.21 149.93 L236.82 148.84 L237.43 147.75 L238.04 146.64 L238.65 145.53 L239.26 144.42 L239.87 143.29 L240.48 142.16 L241.09 141.03 L241.70 139.88 L242.31 138.73 L242.92 137.57 L243.53 136.41 L244.14 135.24 L244.75 134.06 L245.36 132.87 L245.97 131.68 L246.58 130.47 L247.19 129.26 L247.80 128.05 L248.41 126.82 L249.02 125.59 L249.63 124.35 L250.24 123.10 L250.85 121.85 L251.46 120.58 L252.07 119.31 L252.68 118.03 L253.29 116.74 L253.90 115.45 L254.51 114.14 L255.12 112.83 L255.73 111.51 L256.34 110.17 L256.95 108.83 L257.56 107.49 L258.17 106.13 L258.78 104.76 L259.39 103.38 L260.00 102.00 L260.61 100.60 L261.22 99.20 L261.83 97.79 L262.44 96.36 L263.05 94.93 L263.67 93.48 L264.28 92.03 L264.89 90.57 L265.50 89.09 L266.11 87.61 L266.72 86.11 L267.33 84.61 L267.94 83.09 L268.55 81.57 L269.16 80.03 L269.77 78.48 L270.38 76.92 L270.99 75.35 L271.60 73.77 L272.21 72.17 L272.82 70.57 L273.43 68.95 L274.04 67.32 L274.65 65.68 L275.26 64.02 L275.87 62.35 L276.48 60.67 L277.09 58.98 L277.70 57.28 L278.31 55.56 L278.92 53.83 L279.53 52.08 L280.14 50.33 L280.75 48.55 L281.36 46.77 L281.97 44.97 L282.58 43.16 L283.19 41.33 L283.80 39.48 L284.41 37.63 L285.02 35.75 L285.63 33.87 L286.24 31.96 L286.85 30.05 L287.46 28.11 L288.07 26.16 L288.68 24.19 L289.29 22.21 L289.90 20.21 L290.51 18.20 L291.12 16.16 L291.73 14.11 L292.34 12.05 L292.90 10.15" fill="none" stroke="#000000" stroke-width="3.3" stroke-dasharray="8.0 1.1 4.5 1.1"/>
<rect x="80.90" y="12.25" width="317.70" height="196.25" fill="none" stroke="#000" stroke-width="1.15"/>
<g stroke="#000" stroke-width="1.2"><line x1="87.10" y1="12.25" x2="87.10" y2="15.85"/><line x1="102.35" y1="12.25" x2="102.35" y2="14.45"/><line x1="117.61" y1="12.25" x2="117.61" y2="14.45"/><line x1="132.86" y1="12.25" x2="132.86" y2="14.45"/><line x1="148.12" y1="12.25" x2="148.12" y2="14.45"/><line x1="163.37" y1="12.25" x2="163.37" y2="15.85"/><line x1="178.62" y1="12.25" x2="178.62" y2="14.45"/><line x1="193.88" y1="12.25" x2="193.88" y2="14.45"/><line x1="209.13" y1="12.25" x2="209.13" y2="14.45"/><line x1="224.39" y1="12.25" x2="224.39" y2="14.45"/><line x1="239.64" y1="12.25" x2="239.64" y2="15.85"/><line x1="254.89" y1="12.25" x2="254.89" y2="14.45"/><line x1="270.15" y1="12.25" x2="270.15" y2="14.45"/><line x1="285.40" y1="12.25" x2="285.40" y2="14.45"/><line x1="300.66" y1="12.25" x2="300.66" y2="14.45"/><line x1="315.91" y1="12.25" x2="315.91" y2="15.85"/><line x1="331.16" y1="12.25" x2="331.16" y2="14.45"/><line x1="346.42" y1="12.25" x2="346.42" y2="14.45"/><line x1="361.67" y1="12.25" x2="361.67" y2="14.45"/><line x1="376.93" y1="12.25" x2="376.93" y2="14.45"/><line x1="392.18" y1="12.25" x2="392.18" y2="15.85"/></g>
<g stroke="#000" stroke-width="1.2"><line x1="87.10" y1="208.50" x2="87.10" y2="204.90"/><line x1="102.35" y1="208.50" x2="102.35" y2="206.30"/><line x1="117.61" y1="208.50" x2="117.61" y2="206.30"/><line x1="132.86" y1="208.50" x2="132.86" y2="206.30"/><line x1="148.12" y1="208.50" x2="148.12" y2="206.30"/><line x1="163.37" y1="208.50" x2="163.37" y2="204.90"/><line x1="178.62" y1="208.50" x2="178.62" y2="206.30"/><line x1="193.88" y1="208.50" x2="193.88" y2="206.30"/><line x1="209.13" y1="208.50" x2="209.13" y2="206.30"/><line x1="224.39" y1="208.50" x2="224.39" y2="206.30"/><line x1="239.64" y1="208.50" x2="239.64" y2="204.90"/><line x1="254.89" y1="208.50" x2="254.89" y2="206.30"/><line x1="270.15" y1="208.50" x2="270.15" y2="206.30"/><line x1="285.40" y1="208.50" x2="285.40" y2="206.30"/><line x1="300.66" y1="208.50" x2="300.66" y2="206.30"/><line x1="315.91" y1="208.50" x2="315.91" y2="204.90"/><line x1="331.16" y1="208.50" x2="331.16" y2="206.30"/><line x1="346.42" y1="208.50" x2="346.42" y2="206.30"/><line x1="361.67" y1="208.50" x2="361.67" y2="206.30"/><line x1="376.93" y1="208.50" x2="376.93" y2="206.30"/><line x1="392.18" y1="208.50" x2="392.18" y2="204.90"/></g>
<g stroke="#000" stroke-width="1.2"><line x1="80.90" y1="208.50" x2="84.90" y2="208.50"/><line x1="80.90" y1="202.89" x2="83.00" y2="202.89"/><line x1="80.90" y1="197.29" x2="83.00" y2="197.29"/><line x1="80.90" y1="191.68" x2="83.00" y2="191.68"/><line x1="80.90" y1="186.07" x2="83.00" y2="186.07"/><line x1="80.90" y1="180.46" x2="84.90" y2="180.46"/><line x1="80.90" y1="174.86" x2="83.00" y2="174.86"/><line x1="80.90" y1="169.25" x2="83.00" y2="169.25"/><line x1="80.90" y1="163.64" x2="83.00" y2="163.64"/><line x1="80.90" y1="158.04" x2="83.00" y2="158.04"/><line x1="80.90" y1="152.43" x2="84.90" y2="152.43"/><line x1="80.90" y1="146.82" x2="83.00" y2="146.82"/><line x1="80.90" y1="141.21" x2="83.00" y2="141.21"/><line x1="80.90" y1="135.61" x2="83.00" y2="135.61"/><line x1="80.90" y1="130.00" x2="83.00" y2="130.00"/><line x1="80.90" y1="124.39" x2="84.90" y2="124.39"/><line x1="80.90" y1="118.79" x2="83.00" y2="118.79"/><line x1="80.90" y1="113.18" x2="83.00" y2="113.18"/><line x1="80.90" y1="107.57" x2="83.00" y2="107.57"/><line x1="80.90" y1="101.96" x2="83.00" y2="101.96"/><line x1="80.90" y1="96.36" x2="84.90" y2="96.36"/><line x1="80.90" y1="90.75" x2="83.00" y2="90.75"/><line x1="80.90" y1="85.14" x2="83.00" y2="85.14"/><line x1="80.90" y1="79.54" x2="83.00" y2="79.54"/><line x1="80.90" y1="73.93" x2="83.00" y2="73.93"/><line x1="80.90" y1="68.32" x2="84.90" y2="68.32"/><line x1="80.90" y1="62.71" x2="83.00" y2="62.71"/><line x1="80.90" y1="57.11" x2="83.00" y2="57.11"/><line x1="80.90" y1="51.50" x2="83.00" y2="51.50"/><line x1="80.90" y1="45.89" x2="83.00" y2="45.89"/><line x1="80.90" y1="40.29" x2="84.90" y2="40.29"/><line x1="80.90" y1="34.68" x2="83.00" y2="34.68"/><line x1="80.90" y1="29.07" x2="83.00" y2="29.07"/><line x1="80.90" y1="23.46" x2="83.00" y2="23.46"/><line x1="80.90" y1="17.86" x2="83.00" y2="17.86"/><line x1="80.90" y1="12.25" x2="84.90" y2="12.25"/></g>
<g stroke="#000" stroke-width="1.2"><line x1="398.60" y1="208.50" x2="394.60" y2="208.50"/><line x1="398.60" y1="202.89" x2="396.50" y2="202.89"/><line x1="398.60" y1="197.29" x2="396.50" y2="197.29"/><line x1="398.60" y1="191.68" x2="396.50" y2="191.68"/><line x1="398.60" y1="186.07" x2="396.50" y2="186.07"/><line x1="398.60" y1="180.46" x2="394.60" y2="180.46"/><line x1="398.60" y1="174.86" x2="396.50" y2="174.86"/><line x1="398.60" y1="169.25" x2="396.50" y2="169.25"/><line x1="398.60" y1="163.64" x2="396.50" y2="163.64"/><line x1="398.60" y1="158.04" x2="396.50" y2="158.04"/><line x1="398.60" y1="152.43" x2="394.60" y2="152.43"/><line x1="398.60" y1="146.82" x2="396.50" y2="146.82"/><line x1="398.60" y1="141.21" x2="396.50" y2="141.21"/><line x1="398.60" y1="135.61" x2="396.50" y2="135.61"/><line x1="398.60" y1="130.00" x2="396.50" y2="130.00"/><line x1="398.60" y1="124.39" x2="394.60" y2="124.39"/><line x1="398.60" y1="118.79" x2="396.50" y2="118.79"/><line x1="398.60" y1="113.18" x2="396.50" y2="113.18"/><line x1="398.60" y1="107.57" x2="396.50" y2="107.57"/><line x1="398.60" y1="101.96" x2="396.50" y2="101.96"/><line x1="398.60" y1="96.36" x2="394.60" y2="96.36"/><line x1="398.60" y1="90.75" x2="396.50" y2="90.75"/><line x1="398.60" y1="85.14" x2="396.50" y2="85.14"/><line x1="398.60" y1="79.54" x2="396.50" y2="79.54"/><line x1="398.60" y1="73.93" x2="396.50" y2="73.93"/><line x1="398.60" y1="68.32" x2="394.60" y2="68.32"/><line x1="398.60" y1="62.71" x2="396.50" y2="62.71"/><line x1="398.60" y1="57.11" x2="396.50" y2="57.11"/><line x1="398.60" y1="51.50" x2="396.50" y2="51.50"/><line x1="398.60" y1="45.89" x2="396.50" y2="45.89"/><line x1="398.60" y1="40.29" x2="394.60" y2="40.29"/><line x1="398.60" y1="34.68" x2="396.50" y2="34.68"/><line x1="398.60" y1="29.07" x2="396.50" y2="29.07"/><line x1="398.60" y1="23.46" x2="396.50" y2="23.46"/><line x1="398.60" y1="17.86" x2="396.50" y2="17.86"/><line x1="398.60" y1="12.25" x2="394.60" y2="12.25"/></g>
<text x="77.3" y="211.80" text-anchor="end" font-size="14">0</text>
<text x="77.3" y="183.80" text-anchor="end" font-size="14">10</text>
<text x="77.3" y="155.80" text-anchor="end" font-size="14">20</text>
<text x="77.3" y="127.80" text-anchor="end" font-size="14">30</text>
<text x="77.3" y="99.80" text-anchor="end" font-size="14">40</text>
<text x="77.3" y="71.80" text-anchor="end" font-size="14">50</text>
<text x="77.3" y="43.80" text-anchor="end" font-size="14">60</text>
<text x="77.3" y="15.80" text-anchor="end" font-size="14">70</text>
<text x="391.9" y="195.7" text-anchor="end" font-size="17.5" fill="#0000a8">f=10Mp</text>
<text transform="translate(47.5,110) rotate(-90)" text-anchor="middle" font-size="19.5"><tspan font-style="italic">N</tspan><tspan font-size="14" dx="-1.4" dy="3.7">re</tspan></text>
<rect x="80.3" y="205.70" width="345" height="250.00" fill="#fff"/>
<rect x="0" y="209.7" width="81" height="246" fill="#fff"/>
<rect x="87.00" y="350.90" width="305.20" height="51.35" fill="#ccffcc"/>
<rect x="87.00" y="392.10" width="305.20" height="10.15" fill="#a0cba0"/>
<rect x="178.7" y="206.30" width="94.3" height="145.30" fill="#fad2ea"/>
<rect x="218.2" y="206.30" width="15.4" height="145.30" fill="#b494d5"/>
<path d="M85.96 289.65 L86.72 289.28 L87.49 288.91 L88.25 288.54 L89.02 288.16 L89.78 287.79 L90.55 287.41 L91.31 287.03 L92.08 286.65 L92.85 286.26 L93.61 285.88 L94.38 285.49 L95.14 285.11 L95.91 284.72 L96.67 284.33 L97.44 283.93 L98.20 283.54 L98.97 283.14 L99.74 282.75 L100.50 282.35 L101.27 281.95 L102.03 281.54 L102.80 281.14 L103.56 280.73 L104.33 280.32 L105.09 279.91 L105.86 279.50 L106.63 279.09 L107.39 278.67 L108.16 278.25 L108.92 277.83 L109.69 277.41 L110.45 276.99 L111.22 276.56 L111.98 276.14 L112.75 275.71 L113.52 275.28 L114.28 274.84 L115.05 274.41 L115.81 273.97 L116.58 273.53 L117.34 273.09 L118.11 272.65 L118.88 272.21 L119.64 271.76 L120.41 271.31 L121.17 270.86 L121.94 270.40 L122.70 269.95 L123.47 269.49 L124.23 269.03 L125.00 268.57 L125.77 268.11 L126.53 267.64 L127.30 267.17 L128.06 266.70 L128.83 266.23 L129.59 265.75 L130.36 265.27 L131.12 264.79 L131.89 264.31 L132.66 263.83 L133.42 263.34 L134.19 262.85 L134.95 262.36 L135.72 261.87 L136.48 261.37 L137.25 260.87 L138.01 260.37 L138.78 259.87 L139.55 259.36 L140.31 258.85 L141.08 258.34 L141.84 257.83 L142.61 257.31 L143.37 256.79 L144.14 256.27 L144.90 255.75 L145.67 255.22 L146.44 254.69 L147.20 254.16 L147.97 253.62 L148.73 253.08 L149.50 252.54 L150.26 252.00 L151.03 251.46 L151.79 250.91 L152.56 250.36 L153.33 249.80 L154.09 249.24 L154.86 248.68 L155.62 248.12 L156.39 247.55 L157.15 246.98 L157.92 246.41 L158.68 245.84 L159.45 245.26 L160.22 244.68 L160.98 244.09 L161.75 243.51 L162.51 242.92 L163.28 242.32 L164.04 241.73 L164.81 241.12 L165.57 240.52 L166.34 239.91 L167.11 239.30 L167.87 238.69 L168.64 238.07 L169.40 237.45 L170.17 236.83 L170.93 236.20 L171.70 235.57 L172.46 234.94 L173.23 234.30 L174.00 233.66 L174.76 233.02 L175.53 232.37 L176.29 231.72 L177.06 231.06 L177.82 230.40 L178.59 229.74 L179.35 229.07 L180.12 228.40 L180.89 227.72 L181.65 227.05 L182.42 226.36 L183.18 225.68 L183.95 224.99 L184.71 224.29 L185.48 223.59 L186.24 222.89 L187.01 222.18 L187.78 221.47 L188.54 220.76 L189.31 220.04 L190.07 219.31 L190.84 218.59 L191.60 217.85 L192.37 217.12 L193.13 216.38 L193.90 215.63 L194.67 214.88 L195.43 214.13 L196.20 213.37 L196.96 212.60 L197.73 211.83 L198.49 211.06 L199.26 210.28 L200.02 209.50 L200.79 208.71 L201.56 207.92 L202.32 207.12 L203.09 206.31 L203.10 206.30" fill="none" stroke="#ff0000" stroke-width="3.4"/>
<path d="M112.82 403.55 L113.38 402.60 L113.95 401.63 L114.52 400.65 L115.09 399.66 L115.66 398.68 L116.24 397.69 L116.81 396.69 L117.38 395.70 L117.95 394.70 L118.52 393.69 L119.10 392.69 L119.67 391.68 L120.24 390.66 L120.81 389.64 L121.38 388.62 L121.96 387.60 L122.53 386.57 L123.10 385.54 L123.67 384.50 L124.24 383.46 L124.82 382.42 L125.39 381.37 L125.96 380.32 L126.53 379.27 L127.10 378.21 L127.68 377.15 L128.25 376.09 L128.82 375.02 L129.39 373.95 L129.96 372.87 L130.54 371.79 L131.11 370.71 L131.68 369.62 L132.25 368.53 L132.82 367.43 L133.40 366.33 L133.97 365.23 L134.54 364.12 L135.11 363.01 L135.68 361.89 L136.26 360.77 L136.83 359.65 L137.40 358.52 L137.97 357.39 L138.54 356.25 L139.12 355.11 L139.69 353.97 L140.26 352.82 L140.83 351.66 L141.40 350.51 L141.98 349.34 L142.55 348.18 L143.12 347.01 L143.69 345.83 L144.26 344.65 L144.84 343.47 L145.41 342.28 L145.98 341.09 L146.55 339.89 L147.12 338.69 L147.70 337.49 L148.27 336.28 L148.84 335.06 L149.41 333.84 L149.98 332.62 L150.56 331.39 L151.13 330.15 L151.70 328.91 L152.27 327.67 L152.84 326.42 L153.42 325.17 L153.99 323.91 L154.56 322.65 L155.13 321.38 L155.70 320.11 L156.28 318.83 L156.85 317.55 L157.42 316.26 L157.99 314.97 L158.56 313.67 L159.14 312.37 L159.71 311.06 L160.28 309.75 L160.85 308.43 L161.43 307.10 L162.00 305.77 L162.57 304.44 L163.14 303.10 L163.71 301.76 L164.29 300.41 L164.86 299.05 L165.43 297.69 L166.00 296.32 L166.57 294.95 L167.15 293.57 L167.72 292.19 L168.29 290.80 L168.86 289.40 L169.43 288.00 L170.01 286.60 L170.58 285.18 L171.15 283.77 L171.72 282.34 L172.29 280.91 L172.87 279.48 L173.44 278.04 L174.01 276.59 L174.58 275.13 L175.15 273.67 L175.73 272.21 L176.30 270.74 L176.87 269.26 L177.44 267.77 L178.01 266.28 L178.59 264.79 L179.16 263.28 L179.73 261.77 L180.30 260.26 L180.87 258.73 L181.45 257.20 L182.02 255.67 L182.59 254.13 L183.16 252.58 L183.73 251.02 L184.31 249.46 L184.88 247.89 L185.45 246.31 L186.02 244.73 L186.59 243.14 L187.17 241.54 L187.74 239.94 L188.31 238.32 L188.88 236.71 L189.45 235.08 L190.03 233.45 L190.60 231.81 L191.17 230.16 L191.74 228.51 L192.31 226.84 L192.89 225.17 L193.46 223.50 L194.03 221.81 L194.60 220.12 L195.17 218.42 L195.75 216.71 L196.32 214.99 L196.89 213.27 L197.46 211.54 L198.03 209.80 L198.61 208.05 L199.18 206.30" fill="none" stroke="#00be00" stroke-width="3.3" stroke-dasharray="7.5 1.0"/>
<path d="M195.98 206.30 L196.17 207.23 L196.36 208.19 L196.55 209.15 L196.74 210.11 L196.93 211.07 L197.12 212.04 L197.31 213.01 L197.50 213.97 L197.69 214.94 L197.88 215.92 L198.07 216.89 L198.26 217.86 L198.45 218.84 L198.64 219.82 L198.84 220.79 L199.03 221.77 L199.22 222.76 L199.41 223.74 L199.60 224.72 L199.79 225.71 L199.98 226.70 L200.17 227.69 L200.36 228.68 L200.55 229.67 L200.74 230.67 L200.93 231.66 L201.12 232.66 L201.31 233.66 L201.51 234.66 L201.70 235.66 L201.89 236.66 L202.08 237.67 L202.27 238.67 L202.46 239.68 L202.65 240.69 L202.84 241.70 L203.03 242.71 L203.22 243.73 L203.41 244.74 L203.60 245.76 L203.79 246.78 L203.98 247.80 L204.17 248.82 L204.37 249.85 L204.56 250.87 L204.75 251.90 L204.94 252.93 L205.13 253.96 L205.32 254.99 L205.51 256.03 L205.70 257.06 L205.89 258.10 L206.08 259.14 L206.27 260.18 L206.46 261.22 L206.65 262.26 L206.84 263.31 L207.03 264.35 L207.23 265.40 L207.42 266.45 L207.61 267.50 L207.80 268.56 L207.99 269.61 L208.18 270.67 L208.37 271.73 L208.56 272.79 L208.75 273.85 L208.94 274.91 L209.13 275.98 L209.32 277.05 L209.51 278.12 L209.70 279.19 L209.89 280.26 L210.09 281.33 L210.28 282.41 L210.47 283.49 L210.66 284.57 L210.85 285.65 L211.04 286.73 L211.23 287.81 L211.42 288.90 L211.61 289.99 L211.80 291.08 L211.99 292.17 L212.18 293.26 L212.37 294.36 L212.56 295.46 L212.75 296.55 L212.95 297.65 L213.14 298.76 L213.33 299.86 L213.52 300.97 L213.71 302.08 L213.90 303.18 L214.09 304.30 L214.28 305.41 L214.47 306.52 L214.66 307.64 L214.85 308.76 L215.04 309.88 L215.23 311.00 L215.42 312.13 L215.61 313.25 L215.81 314.38 L216.00 315.51 L216.19 316.64 L216.38 317.78 L216.57 318.91 L216.76 320.05 L216.95 321.19 L217.14 322.33 L217.33 323.48 L217.52 324.62 L217.71 325.77 L217.90 326.92 L218.09 328.07 L218.28 329.22 L218.48 330.37 L218.67 331.53 L218.86 332.69 L219.05 333.85 L219.24 335.01 L219.43 336.18 L219.62 337.34 L219.81 338.51 L220.00 339.68 L220.19 340.86 L220.38 342.03 L220.57 343.21 L220.76 344.39 L220.95 345.57 L221.14 346.75 L221.34 347.93 L221.53 349.12 L221.72 350.31 L221.91 351.50 L222.10 352.69 L222.29 353.89 L222.48 355.08 L222.67 356.28 L222.86 357.48 L223.05 358.68 L223.24 359.89 L223.43 361.10 L223.62 362.31 L223.81 363.52 L224.00 364.73 L224.20 365.94 L224.39 367.16 L224.58 368.38 L224.77 369.60 L224.96 370.83 L225.15 372.05 L225.34 373.28 L225.53 374.51 L225.72 375.74 L225.91 376.98 L226.10 378.21 L226.29 379.45 L226.48 380.69 L226.67 381.94 L226.86 383.18 L227.06 384.43 L227.25 385.68 L227.44 386.93 L227.63 388.19 L227.82 389.44 L228.01 390.70 L228.20 391.96 L228.39 393.22 L228.58 394.49 L228.77 395.76 L228.96 397.03 L229.15 398.30 L229.34 399.57 L229.53 400.85 L229.72 402.13 L229.92 403.41 L229.94 403.55" fill="none" stroke="#0000ff" stroke-width="3.3" stroke-dasharray="4.4 1.0"/>
<path d="M195.17 206.30 L195.48 207.22 L195.82 208.25 L196.17 209.28 L196.51 210.32 L196.85 211.36 L197.20 212.41 L197.54 213.45 L197.88 214.50 L198.23 215.56 L198.57 216.61 L198.91 217.67 L199.26 218.73 L199.60 219.79 L199.94 220.86 L200.28 221.93 L200.63 223.00 L200.97 224.08 L201.31 225.16 L201.66 226.24 L202.00 227.33 L202.34 228.42 L202.69 229.51 L203.03 230.60 L203.37 231.70 L203.72 232.80 L204.06 233.90 L204.40 235.01 L204.75 236.12 L205.09 237.23 L205.43 238.35 L205.78 239.47 L206.12 240.59 L206.46 241.72 L206.81 242.84 L207.15 243.98 L207.49 245.11 L207.84 246.25 L208.18 247.39 L208.52 248.54 L208.87 249.69 L209.21 250.84 L209.55 251.99 L209.89 253.15 L210.24 254.32 L210.58 255.48 L210.92 256.65 L211.27 257.82 L211.61 259.00 L211.95 260.18 L212.30 261.36 L212.64 262.55 L212.98 263.73 L213.33 264.93 L213.67 266.12 L214.01 267.32 L214.36 268.53 L214.70 269.74 L215.04 270.95 L215.39 272.16 L215.73 273.38 L216.07 274.60 L216.42 275.83 L216.76 277.05 L217.10 278.29 L217.45 279.52 L217.79 280.76 L218.13 282.01 L218.48 283.26 L218.82 284.51 L219.16 285.76 L219.50 287.02 L219.85 288.28 L220.19 289.55 L220.53 290.82 L220.88 292.10 L221.22 293.37 L221.56 294.66 L221.91 295.94 L222.25 297.23 L222.59 298.53 L222.94 299.83 L223.28 301.13 L223.62 302.43 L223.97 303.75 L224.31 305.06 L224.65 306.38 L225.00 307.70 L225.34 309.03 L225.68 310.36 L226.03 311.69 L226.37 313.03 L226.71 314.38 L227.06 315.72 L227.40 317.08 L227.74 318.43 L228.09 319.79 L228.43 321.16 L228.77 322.53 L229.11 323.90 L229.46 325.28 L229.80 326.66 L230.14 328.05 L230.49 329.44 L230.83 330.84 L231.17 332.24 L231.52 333.64 L231.86 335.05 L232.20 336.46 L232.55 337.88 L232.89 339.31 L233.23 340.73 L233.58 342.17 L233.92 343.60 L234.26 345.04 L234.61 346.49 L234.95 347.94 L235.29 349.40 L235.64 350.86 L235.98 352.32 L236.32 353.79 L236.67 355.27 L237.01 356.75 L237.35 358.24 L237.70 359.73 L238.04 361.22 L238.38 362.72 L238.72 364.23 L239.07 365.74 L239.41 367.25 L239.75 368.77 L240.10 370.30 L240.44 371.83 L240.78 373.37 L241.13 374.91 L241.47 376.45 L241.81 378.00 L242.16 379.56 L242.50 381.12 L242.84 382.69 L243.19 384.26 L243.53 385.84 L243.87 387.43 L244.22 389.02 L244.56 390.61 L244.90 392.21 L245.25 393.82 L245.59 395.43 L245.93 397.05 L246.28 398.67 L246.62 400.30 L246.96 401.93 L247.30 403.55" fill="none" stroke="#000000" stroke-width="3.3" stroke-dasharray="8.0 1.1 4.5 1.1"/>
<rect x="80.90" y="206.30" width="317.70" height="195.95" fill="none" stroke="#000" stroke-width="1.15"/>
<line x1="80.90" y1="208.50" x2="398.60" y2="208.50" stroke="#000" stroke-width="1.15"/>
<g stroke="#000" stroke-width="1.2"><line x1="87.10" y1="208.50" x2="87.10" y2="204.90"/><line x1="102.35" y1="208.50" x2="102.35" y2="206.30"/><line x1="117.61" y1="208.50" x2="117.61" y2="206.30"/><line x1="132.86" y1="208.50" x2="132.86" y2="206.30"/><line x1="148.12" y1="208.50" x2="148.12" y2="206.30"/><line x1="163.37" y1="208.50" x2="163.37" y2="204.90"/><line x1="178.62" y1="208.50" x2="178.62" y2="206.30"/><line x1="193.88" y1="208.50" x2="193.88" y2="206.30"/><line x1="209.13" y1="208.50" x2="209.13" y2="206.30"/><line x1="224.39" y1="208.50" x2="224.39" y2="206.30"/><line x1="239.64" y1="208.50" x2="239.64" y2="204.90"/><line x1="254.89" y1="208.50" x2="254.89" y2="206.30"/><line x1="270.15" y1="208.50" x2="270.15" y2="206.30"/><line x1="285.40" y1="208.50" x2="285.40" y2="206.30"/><line x1="300.66" y1="208.50" x2="300.66" y2="206.30"/><line x1="315.91" y1="208.50" x2="315.91" y2="204.90"/><line x1="331.16" y1="208.50" x2="331.16" y2="206.30"/><line x1="346.42" y1="208.50" x2="346.42" y2="206.30"/><line x1="361.67" y1="208.50" x2="361.67" y2="206.30"/><line x1="376.93" y1="208.50" x2="376.93" y2="206.30"/><line x1="392.18" y1="208.50" x2="392.18" y2="204.90"/></g>
<g stroke="#000" stroke-width="1.2"><line x1="87.10" y1="206.30" x2="87.10" y2="210.30"/><line x1="102.35" y1="206.30" x2="102.35" y2="208.50"/><line x1="117.61" y1="206.30" x2="117.61" y2="208.50"/><line x1="132.86" y1="206.30" x2="132.86" y2="208.50"/><line x1="148.12" y1="206.30" x2="148.12" y2="208.50"/><line x1="163.37" y1="206.30" x2="163.37" y2="210.30"/><line x1="178.62" y1="206.30" x2="178.62" y2="208.50"/><line x1="193.88" y1="206.30" x2="193.88" y2="208.50"/><line x1="209.13" y1="206.30" x2="209.13" y2="208.50"/><line x1="224.39" y1="206.30" x2="224.39" y2="208.50"/><line x1="239.64" y1="206.30" x2="239.64" y2="210.30"/><line x1="254.89" y1="206.30" x2="254.89" y2="208.50"/><line x1="270.15" y1="206.30" x2="270.15" y2="208.50"/><line x1="285.40" y1="206.30" x2="285.40" y2="208.50"/><line x1="300.66" y1="206.30" x2="300.66" y2="208.50"/><line x1="315.91" y1="206.30" x2="315.91" y2="210.30"/><line x1="331.16" y1="206.30" x2="331.16" y2="208.50"/><line x1="346.42" y1="206.30" x2="346.42" y2="208.50"/><line x1="361.67" y1="206.30" x2="361.67" y2="208.50"/><line x1="376.93" y1="206.30" x2="376.93" y2="208.50"/><line x1="392.18" y1="206.30" x2="392.18" y2="210.30"/></g>
<g stroke="#000" stroke-width="1.2"><line x1="87.10" y1="402.25" x2="87.10" y2="398.85"/><line x1="102.35" y1="402.25" x2="102.35" y2="400.15"/><line x1="117.61" y1="402.25" x2="117.61" y2="400.15"/><line x1="132.86" y1="402.25" x2="132.86" y2="400.15"/><line x1="148.12" y1="402.25" x2="148.12" y2="400.15"/><line x1="163.37" y1="402.25" x2="163.37" y2="398.85"/><line x1="178.62" y1="402.25" x2="178.62" y2="400.15"/><line x1="193.88" y1="402.25" x2="193.88" y2="400.15"/><line x1="209.13" y1="402.25" x2="209.13" y2="400.15"/><line x1="224.39" y1="402.25" x2="224.39" y2="400.15"/><line x1="239.64" y1="402.25" x2="239.64" y2="398.85"/><line x1="254.89" y1="402.25" x2="254.89" y2="400.15"/><line x1="270.15" y1="402.25" x2="270.15" y2="400.15"/><line x1="285.40" y1="402.25" x2="285.40" y2="400.15"/><line x1="300.66" y1="402.25" x2="300.66" y2="400.15"/><line x1="315.91" y1="402.25" x2="315.91" y2="398.85"/><line x1="331.16" y1="402.25" x2="331.16" y2="400.15"/><line x1="346.42" y1="402.25" x2="346.42" y2="400.15"/><line x1="361.67" y1="402.25" x2="361.67" y2="400.15"/><line x1="376.93" y1="402.25" x2="376.93" y2="400.15"/><line x1="392.18" y1="402.25" x2="392.18" y2="398.85"/></g>
<g stroke="#555" stroke-width="0.8"><line x1="80.90" y1="392.55" x2="84.10" y2="392.55"/><line x1="80.90" y1="371.89" x2="82.90" y2="371.89"/><line x1="80.90" y1="351.24" x2="84.10" y2="351.24"/><line x1="80.90" y1="330.58" x2="82.90" y2="330.58"/><line x1="80.90" y1="309.93" x2="84.10" y2="309.93"/><line x1="80.90" y1="289.27" x2="82.90" y2="289.27"/><line x1="80.90" y1="268.62" x2="84.10" y2="268.62"/><line x1="80.90" y1="247.96" x2="82.90" y2="247.96"/><line x1="80.90" y1="227.31" x2="84.10" y2="227.31"/></g>
<g stroke="#555" stroke-width="0.8"><line x1="398.60" y1="392.55" x2="395.40" y2="392.55"/><line x1="398.60" y1="371.89" x2="396.60" y2="371.89"/><line x1="398.60" y1="351.24" x2="395.40" y2="351.24"/><line x1="398.60" y1="330.58" x2="396.60" y2="330.58"/><line x1="398.60" y1="309.93" x2="395.40" y2="309.93"/><line x1="398.60" y1="289.27" x2="396.60" y2="289.27"/><line x1="398.60" y1="268.62" x2="395.40" y2="268.62"/><line x1="398.60" y1="247.96" x2="396.60" y2="247.96"/><line x1="398.60" y1="227.31" x2="395.40" y2="227.31"/></g>
<text x="87.10" y="417" text-anchor="middle" font-size="14">0.95</text>
<text x="163.37" y="417" text-anchor="middle" font-size="14">0.96</text>
<text x="239.64" y="417" text-anchor="middle" font-size="14">0.97</text>
<text x="315.91" y="417" text-anchor="middle" font-size="14">0.98</text>
<text x="392.18" y="417" text-anchor="middle" font-size="14">0.99</text>
<text x="76.9" y="233.00" text-anchor="end" font-size="14">10<tspan font-size="10.3" dy="-6.3">14</tspan></text>
<text x="76.9" y="274.30" text-anchor="end" font-size="14">10<tspan font-size="10.3" dy="-6.3">10</tspan></text>
<text x="76.9" y="315.70" text-anchor="end" font-size="14">10<tspan font-size="10.3" dy="-6.3">6</tspan></text>
<text x="76.9" y="354.99" text-anchor="end" font-size="14">100.00</text>
<text x="76.9" y="396.30" text-anchor="end" font-size="14">0.01</text>
<text transform="translate(20.6,304) rotate(-90)" text-anchor="middle" font-size="19.5"><tspan font-style="italic">T</tspan><tspan font-size="14" dx="-0.7" dy="3.5">re</tspan><tspan dy="-3.5"> [GeV]</tspan></text>
<text x="239.8" y="442.3" text-anchor="middle" font-size="19.5"><tspan font-style="italic">n</tspan><tspan font-style="italic" font-size="14.5" dy="3.2">s</tspan></text>
</g>
<g transform="translate(0.00,452.70)">
<rect x="178.7" y="10" width="94.3" height="198.50" fill="#fad2ea"/>
<rect x="218.2" y="10" width="15.4" height="198.50" fill="#b494d5"/>
<path d="M85.96 107.28 L86.72 107.73 L87.49 108.18 L88.25 108.63 L89.02 109.08 L89.78 109.54 L90.55 110.00 L91.31 110.45 L92.08 110.92 L92.85 111.38 L93.61 111.84 L94.38 112.31 L95.14 112.78 L95.91 113.25 L96.67 113.72 L97.44 114.20 L98.20 114.68 L98.97 115.15 L99.74 115.63 L100.50 116.12 L101.27 116.60 L102.03 117.09 L102.80 117.58 L103.56 118.07 L104.33 118.56 L105.09 119.06 L105.86 119.55 L106.63 120.05 L107.39 120.55 L108.16 121.06 L108.92 121.56 L109.69 122.07 L110.45 122.58 L111.22 123.09 L111.98 123.61 L112.75 124.12 L113.52 124.64 L114.28 125.16 L115.05 125.69 L115.81 126.21 L116.58 126.74 L117.34 127.27 L118.11 127.80 L118.88 128.34 L119.64 128.87 L120.41 129.41 L121.17 129.95 L121.94 130.50 L122.70 131.04 L123.47 131.59 L124.23 132.14 L125.00 132.70 L125.77 133.25 L126.53 133.81 L127.30 134.38 L128.06 134.94 L128.83 135.51 L129.59 136.07 L130.36 136.65 L131.12 137.22 L131.89 137.80 L132.66 138.38 L133.42 138.96 L134.19 139.54 L134.95 140.13 L135.72 140.72 L136.48 141.31 L137.25 141.91 L138.01 142.51 L138.78 143.11 L139.55 143.71 L140.31 144.32 L141.08 144.93 L141.84 145.54 L142.61 146.16 L143.37 146.77 L144.14 147.40 L144.90 148.02 L145.67 148.65 L146.44 149.28 L147.20 149.91 L147.97 150.55 L148.73 151.18 L149.50 151.83 L150.26 152.47 L151.03 153.12 L151.79 153.77 L152.56 154.43 L153.33 155.08 L154.09 155.75 L154.86 156.41 L155.62 157.08 L156.39 157.75 L157.15 158.42 L157.92 159.10 L158.68 159.78 L159.45 160.46 L160.22 161.15 L160.98 161.84 L161.75 162.54 L162.51 163.23 L163.28 163.94 L164.04 164.64 L164.81 165.35 L165.57 166.06 L166.34 166.78 L167.11 167.50 L167.87 168.22 L168.64 168.95 L169.40 169.68 L170.17 170.41 L170.93 171.15 L171.70 171.89 L172.46 172.64 L173.23 173.38 L174.00 174.14 L174.76 174.90 L175.53 175.66 L176.29 176.42 L177.06 177.19 L177.82 177.96 L178.59 178.74 L179.35 179.52 L180.12 180.31 L180.89 181.10 L181.65 181.89 L182.42 182.69 L183.18 183.49 L183.95 184.30 L184.71 185.11 L185.48 185.93 L186.24 186.75 L187.01 187.57 L187.78 188.40 L188.54 189.23 L189.31 190.07 L190.07 190.91 L190.84 191.76 L191.60 192.61 L192.37 193.47 L193.13 194.33 L193.90 195.20 L194.67 196.07 L195.43 196.95 L196.20 197.83 L196.96 198.71 L197.73 199.60 L198.49 200.50 L199.26 201.40 L200.02 202.31 L200.79 203.22 L201.56 204.13 L202.32 205.06 L203.09 205.98 L203.85 206.92 L204.62 207.85 L205.14 208.50" fill="none" stroke="#ff0000" stroke-width="3.4"/>
<path d="M89.42 10.15 L90.15 11.01 L90.91 11.93 L91.68 12.84 L92.44 13.77 L93.20 14.69 L93.96 15.62 L94.73 16.55 L95.49 17.49 L96.25 18.43 L97.02 19.37 L97.78 20.32 L98.54 21.27 L99.30 22.23 L100.07 23.18 L100.83 24.15 L101.59 25.12 L102.35 26.09 L103.12 27.06 L103.88 28.04 L104.64 29.03 L105.40 30.01 L106.17 31.01 L106.93 32.00 L107.69 33.00 L108.46 34.01 L109.22 35.02 L109.98 36.03 L110.74 37.05 L111.51 38.07 L112.27 39.09 L113.03 40.13 L113.79 41.16 L114.56 42.20 L115.32 43.24 L116.08 44.29 L116.85 45.35 L117.61 46.40 L118.37 47.47 L119.13 48.53 L119.90 49.60 L120.66 50.68 L121.42 51.76 L122.18 52.85 L122.95 53.94 L123.71 55.03 L124.47 56.13 L125.24 57.24 L126.00 58.35 L126.76 59.46 L127.52 60.58 L128.29 61.71 L129.05 62.84 L129.81 63.97 L130.57 65.11 L131.34 66.26 L132.10 67.41 L132.86 68.57 L133.62 69.73 L134.39 70.89 L135.15 72.07 L135.91 73.24 L136.68 74.43 L137.44 75.61 L138.20 76.81 L138.96 78.01 L139.73 79.21 L140.49 80.42 L141.25 81.64 L142.01 82.86 L142.78 84.09 L143.54 85.32 L144.30 86.56 L145.07 87.80 L145.83 89.05 L146.59 90.31 L147.35 91.57 L148.12 92.84 L148.88 94.12 L149.64 95.40 L150.40 96.68 L151.17 97.98 L151.93 99.28 L152.69 100.58 L153.45 101.89 L154.22 103.21 L154.98 104.54 L155.74 105.87 L156.51 107.20 L157.27 108.55 L158.03 109.90 L158.79 111.26 L159.56 112.62 L160.32 113.99 L161.08 115.37 L161.84 116.75 L162.61 118.14 L163.37 119.54 L164.13 120.95 L164.90 122.36 L165.66 123.78 L166.42 125.21 L167.18 126.64 L167.95 128.08 L168.71 129.53 L169.47 130.99 L170.23 132.45 L171.00 133.92 L171.76 135.40 L172.52 136.88 L173.29 138.38 L174.05 139.88 L174.81 141.39 L175.57 142.91 L176.34 144.43 L177.10 145.96 L177.86 147.51 L178.62 149.05 L179.39 150.61 L180.15 152.18 L180.91 153.75 L181.67 155.33 L182.44 156.92 L183.20 158.52 L183.96 160.13 L184.73 161.75 L185.49 163.37 L186.25 165.01 L187.01 166.65 L187.78 168.30 L188.54 169.96 L189.30 171.63 L190.06 173.31 L190.83 175.00 L191.59 176.70 L192.35 178.40 L193.12 180.12 L193.88 181.85 L194.64 183.58 L195.40 185.33 L196.17 187.08 L196.93 188.85 L197.69 190.62 L198.45 192.41 L199.22 194.20 L199.98 196.01 L200.74 197.82 L201.51 199.65 L202.27 201.48 L203.03 203.33 L203.79 205.19 L204.56 207.06 L205.14 208.50" fill="none" stroke="#009900" stroke-width="3.3" stroke-dasharray="7.5 1.0"/>
<path d="M205.14 208.50 L205.47 207.69 L205.85 206.74 L206.23 205.80 L206.62 204.85 L207.00 203.89 L207.38 202.94 L207.76 201.98 L208.14 201.02 L208.52 200.05 L208.90 199.09 L209.28 198.12 L209.67 197.14 L210.05 196.17 L210.43 195.19 L210.81 194.21 L211.19 193.22 L211.57 192.24 L211.95 191.25 L212.34 190.25 L212.72 189.26 L213.10 188.26 L213.48 187.26 L213.86 186.25 L214.24 185.24 L214.62 184.23 L215.00 183.22 L215.39 182.20 L215.77 181.18 L216.15 180.16 L216.53 179.13 L216.91 178.10 L217.29 177.07 L217.67 176.03 L218.06 174.99 L218.44 173.95 L218.82 172.91 L219.20 171.86 L219.58 170.81 L219.96 169.75 L220.34 168.69 L220.73 167.63 L221.11 166.57 L221.49 165.50 L221.87 164.43 L222.25 163.35 L222.63 162.28 L223.01 161.19 L223.39 160.11 L223.78 159.02 L224.16 157.93 L224.54 156.84 L224.92 155.74 L225.30 154.64 L225.68 153.53 L226.06 152.42 L226.45 151.31 L226.83 150.19 L227.21 149.08 L227.59 147.95 L227.97 146.83 L228.35 145.70 L228.73 144.56 L229.11 143.43 L229.50 142.29 L229.88 141.14 L230.26 139.99 L230.64 138.84 L231.02 137.69 L231.40 136.53 L231.78 135.36 L232.17 134.20 L232.55 133.03 L232.93 131.85 L233.31 130.67 L233.69 129.49 L234.07 128.31 L234.45 127.12 L234.83 125.92 L235.22 124.73 L235.60 123.53 L235.98 122.32 L236.36 121.11 L236.74 119.90 L237.12 118.68 L237.50 117.46 L237.89 116.23 L238.27 115.01 L238.65 113.77 L239.03 112.53 L239.41 111.29 L239.79 110.05 L240.17 108.80 L240.56 107.54 L240.94 106.29 L241.32 105.02 L241.70 103.76 L242.08 102.49 L242.46 101.21 L242.84 99.93 L243.22 98.65 L243.61 97.36 L243.99 96.07 L244.37 94.77 L244.75 93.47 L245.13 92.16 L245.51 90.85 L245.89 89.54 L246.28 88.22 L246.66 86.89 L247.04 85.56 L247.42 84.23 L247.80 82.89 L248.18 81.55 L248.56 80.20 L248.94 78.85 L249.33 77.50 L249.71 76.14 L250.09 74.77 L250.47 73.40 L250.85 72.02 L251.23 70.64 L251.61 69.26 L252.00 67.87 L252.38 66.47 L252.76 65.07 L253.14 63.67 L253.52 62.26 L253.90 60.85 L254.28 59.43 L254.67 58.00 L255.05 56.57 L255.43 55.14 L255.81 53.70 L256.19 52.25 L256.57 50.80 L256.95 49.34 L257.33 47.88 L257.72 46.42 L258.10 44.94 L258.48 43.47 L258.86 41.98 L259.24 40.50 L259.62 39.00 L260.00 37.51 L260.39 36.00 L260.77 34.49 L261.15 32.98 L261.53 31.46 L261.91 29.93 L262.29 28.40 L262.67 26.86 L263.05 25.32 L263.44 23.77 L263.82 22.21 L264.20 20.65 L264.58 19.08 L264.96 17.51 L265.34 15.93 L265.72 14.35 L266.11 12.76 L266.49 11.16 L266.73 10.15" fill="none" stroke="#0000ff" stroke-width="3.3" stroke-dasharray="4.4 1.0"/>
<path d="M205.14 208.50 L205.70 207.81 L206.31 207.05 L206.92 206.29 L207.53 205.53 L208.14 204.76 L208.75 203.99 L209.36 203.21 L209.97 202.43 L210.58 201.65 L211.19 200.86 L211.80 200.07 L212.41 199.28 L213.02 198.48 L213.63 197.68 L214.24 196.87 L214.85 196.06 L215.46 195.25 L216.07 194.43 L216.68 193.61 L217.29 192.78 L217.90 191.96 L218.51 191.12 L219.12 190.28 L219.73 189.44 L220.34 188.60 L220.95 187.75 L221.56 186.89 L222.17 186.03 L222.78 185.17 L223.39 184.31 L224.00 183.43 L224.61 182.56 L225.22 181.68 L225.84 180.79 L226.45 179.90 L227.06 179.01 L227.67 178.11 L228.28 177.21 L228.89 176.30 L229.50 175.39 L230.11 174.48 L230.72 173.56 L231.33 172.63 L231.94 171.70 L232.55 170.76 L233.16 169.82 L233.77 168.88 L234.38 167.93 L234.99 166.97 L235.60 166.01 L236.21 165.05 L236.82 164.08 L237.43 163.10 L238.04 162.12 L238.65 161.14 L239.26 160.15 L239.87 159.15 L240.48 158.15 L241.09 157.14 L241.70 156.13 L242.31 155.11 L242.92 154.09 L243.53 153.06 L244.14 152.02 L244.75 150.98 L245.36 149.94 L245.97 148.89 L246.58 147.83 L247.19 146.77 L247.80 145.70 L248.41 144.62 L249.02 143.54 L249.63 142.45 L250.24 141.36 L250.85 140.26 L251.46 139.16 L252.07 138.05 L252.68 136.93 L253.29 135.80 L253.90 134.67 L254.51 133.54 L255.12 132.39 L255.73 131.24 L256.34 130.09 L256.95 128.92 L257.56 127.75 L258.17 126.57 L258.78 125.39 L259.39 124.20 L260.00 123.00 L260.61 121.80 L261.22 120.59 L261.83 119.37 L262.44 118.14 L263.05 116.91 L263.67 115.67 L264.28 114.42 L264.89 113.16 L265.50 111.90 L266.11 110.63 L266.72 109.35 L267.33 108.06 L267.94 106.77 L268.55 105.47 L269.16 104.16 L269.77 102.84 L270.38 101.51 L270.99 100.18 L271.60 98.84 L272.21 97.49 L272.82 96.13 L273.43 94.76 L274.04 93.38 L274.65 92.00 L275.26 90.60 L275.87 89.20 L276.48 87.79 L277.09 86.37 L277.70 84.94 L278.31 83.50 L278.92 82.05 L279.53 80.59 L280.14 79.13 L280.75 77.65 L281.36 76.16 L281.97 74.67 L282.58 73.16 L283.19 71.65 L283.80 70.12 L284.41 68.58 L285.02 67.04 L285.63 65.48 L286.24 63.92 L286.85 62.34 L287.46 60.75 L288.07 59.15 L288.68 57.54 L289.29 55.92 L289.90 54.29 L290.51 52.65 L291.12 50.99 L291.73 49.33 L292.34 47.65 L292.95 45.96 L293.56 44.26 L294.17 42.55 L294.78 40.83 L295.39 39.09 L296.00 37.34 L296.61 35.58 L297.22 33.80 L297.83 32.02 L298.44 30.22 L299.05 28.41 L299.66 26.58 L300.27 24.74 L300.88 22.89 L301.49 21.03 L302.11 19.15 L302.72 17.25 L303.33 15.35 L303.94 13.42 L304.55 11.49 L304.97 10.15" fill="none" stroke="#000000" stroke-width="3.3" stroke-dasharray="8.0 1.1 4.5 1.1"/>
<rect x="80.90" y="12.25" width="317.70" height="196.25" fill="none" stroke="#000" stroke-width="1.15"/>
<g stroke="#000" stroke-width="1.2"><line x1="87.10" y1="12.25" x2="87.10" y2="15.85"/><line x1="102.35" y1="12.25" x2="102.35" y2="14.45"/><line x1="117.61" y1="12.25" x2="117.61" y2="14.45"/><line x1="132.86" y1="12.25" x2="132.86" y2="14.45"/><line x1="148.12" y1="12.25" x2="148.12" y2="14.45"/><line x1="163.37" y1="12.25" x2="163.37" y2="15.85"/><line x1="178.62" y1="12.25" x2="178.62" y2="14.45"/><line x1="193.88" y1="12.25" x2="193.88" y2="14.45"/><line x1="209.13" y1="12.25" x2="209.13" y2="14.45"/><line x1="224.39" y1="12.25" x2="224.39" y2="14.45"/><line x1="239.64" y1="12.25" x2="239.64" y2="15.85"/><line x1="254.89" y1="12.25" x2="254.89" y2="14.45"/><line x1="270.15" y1="12.25" x2="270.15" y2="14.45"/><line x1="285.40" y1="12.25" x2="285.40" y2="14.45"/><line x1="300.66" y1="12.25" x2="300.66" y2="14.45"/><line x1="315.91" y1="12.25" x2="315.91" y2="15.85"/><line x1="331.16" y1="12.25" x2="331.16" y2="14.45"/><line x1="346.42" y1="12.25" x2="346.42" y2="14.45"/><line x1="361.67" y1="12.25" x2="361.67" y2="14.45"/><line x1="376.93" y1="12.25" x2="376.93" y2="14.45"/><line x1="392.18" y1="12.25" x2="392.18" y2="15.85"/></g>
<g stroke="#000" stroke-width="1.2"><line x1="87.10" y1="208.50" x2="87.10" y2="204.90"/><line x1="102.35" y1="208.50" x2="102.35" y2="206.30"/><line x1="117.61" y1="208.50" x2="117.61" y2="206.30"/><line x1="132.86" y1="208.50" x2="132.86" y2="206.30"/><line x1="148.12" y1="208.50" x2="148.12" y2="206.30"/><line x1="163.37" y1="208.50" x2="163.37" y2="204.90"/><line x1="178.62" y1="208.50" x2="178.62" y2="206.30"/><line x1="193.88" y1="208.50" x2="193.88" y2="206.30"/><line x1="209.13" y1="208.50" x2="209.13" y2="206.30"/><line x1="224.39" y1="208.50" x2="224.39" y2="206.30"/><line x1="239.64" y1="208.50" x2="239.64" y2="204.90"/><line x1="254.89" y1="208.50" x2="254.89" y2="206.30"/><line x1="270.15" y1="208.50" x2="270.15" y2="206.30"/><line x1="285.40" y1="208.50" x2="285.40" y2="206.30"/><line x1="300.66" y1="208.50" x2="300.66" y2="206.30"/><line x1="315.91" y1="208.50" x2="315.91" y2="204.90"/><line x1="331.16" y1="208.50" x2="331.16" y2="206.30"/><line x1="346.42" y1="208.50" x2="346.42" y2="206.30"/><line x1="361.67" y1="208.50" x2="361.67" y2="206.30"/><line x1="376.93" y1="208.50" x2="376.93" y2="206.30"/><line x1="392.18" y1="208.50" x2="392.18" y2="204.90"/></g>
<g stroke="#000" stroke-width="1.2"><line x1="80.90" y1="208.50" x2="84.90" y2="208.50"/><line x1="80.90" y1="202.89" x2="83.00" y2="202.89"/><line x1="80.90" y1="197.29" x2="83.00" y2="197.29"/><line x1="80.90" y1="191.68" x2="83.00" y2="191.68"/><line x1="80.90" y1="186.07" x2="83.00" y2="186.07"/><line x1="80.90" y1="180.46" x2="84.90" y2="180.46"/><line x1="80.90" y1="174.86" x2="83.00" y2="174.86"/><line x1="80.90" y1="169.25" x2="83.00" y2="169.25"/><line x1="80.90" y1="163.64" x2="83.00" y2="163.64"/><line x1="80.90" y1="158.04" x2="83.00" y2="158.04"/><line x1="80.90" y1="152.43" x2="84.90" y2="152.43"/><line x1="80.90" y1="146.82" x2="83.00" y2="146.82"/><line x1="80.90" y1="141.21" x2="83.00" y2="141.21"/><line x1="80.90" y1="135.61" x2="83.00" y2="135.61"/><line x1="80.90" y1="130.00" x2="83.00" y2="130.00"/><line x1="80.90" y1="124.39" x2="84.90" y2="124.39"/><line x1="80.90" y1="118.79" x2="83.00" y2="118.79"/><line x1="80.90" y1="113.18" x2="83.00" y2="113.18"/><line x1="80.90" y1="107.57" x2="83.00" y2="107.57"/><line x1="80.90" y1="101.96" x2="83.00" y2="101.96"/><line x1="80.90" y1="96.36" x2="84.90" y2="96.36"/><line x1="80.90" y1="90.75" x2="83.00" y2="90.75"/><line x1="80.90" y1="85.14" x2="83.00" y2="85.14"/><line x1="80.90" y1="79.54" x2="83.00" y2="79.54"/><line x1="80.90" y1="73.93" x2="83.00" y2="73.93"/><line x1="80.90" y1="68.32" x2="84.90" y2="68.32"/><line x1="80.90" y1="62.71" x2="83.00" y2="62.71"/><line x1="80.90" y1="57.11" x2="83.00" y2="57.11"/><line x1="80.90" y1="51.50" x2="83.00" y2="51.50"/><line x1="80.90" y1="45.89" x2="83.00" y2="45.89"/><line x1="80.90" y1="40.29" x2="84.90" y2="40.29"/><line x1="80.90" y1="34.68" x2="83.00" y2="34.68"/><line x1="80.90" y1="29.07" x2="83.00" y2="29.07"/><line x1="80.90" y1="23.46" x2="83.00" y2="23.46"/><line x1="80.90" y1="17.86" x2="83.00" y2="17.86"/><line x1="80.90" y1="12.25" x2="84.90" y2="12.25"/></g>
<g stroke="#000" stroke-width="1.2"><line x1="398.60" y1="208.50" x2="394.60" y2="208.50"/><line x1="398.60" y1="202.89" x2="396.50" y2="202.89"/><line x1="398.60" y1="197.29" x2="396.50" y2="197.29"/><line x1="398.60" y1="191.68" x2="396.50" y2="191.68"/><line x1="398.60" y1="186.07" x2="396.50" y2="186.07"/><line x1="398.60" y1="180.46" x2="394.60" y2="180.46"/><line x1="398.60" y1="174.86" x2="396.50" y2="174.86"/><line x1="398.60" y1="169.25" x2="396.50" y2="169.25"/><line x1="398.60" y1="163.64" x2="396.50" y2="163.64"/><line x1="398.60" y1="158.04" x2="396.50" y2="158.04"/><line x1="398.60" y1="152.43" x2="394.60" y2="152.43"/><line x1="398.60" y1="146.82" x2="396.50" y2="146.82"/><line x1="398.60" y1="141.21" x2="396.50" y2="141.21"/><line x1="398.60" y1="135.61" x2="396.50" y2="135.61"/><line x1="398.60" y1="130.00" x2="396.50" y2="130.00"/><line x1="398.60" y1="124.39" x2="394.60" y2="124.39"/><line x1="398.60" y1="118.79" x2="396.50" y2="118.79"/><line x1="398.60" y1="113.18" x2="396.50" y2="113.18"/><line x1="398.60" y1="107.57" x2="396.50" y2="107.57"/><line x1="398.60" y1="101.96" x2="396.50" y2="101.96"/><line x1="398.60" y1="96.36" x2="394.60" y2="96.36"/><line x1="398.60" y1="90.75" x2="396.50" y2="90.75"/><line x1="398.60" y1="85.14" x2="396.50" y2="85.14"/><line x1="398.60" y1="79.54" x2="396.50" y2="79.54"/><line x1="398.60" y1="73.93" x2="396.50" y2="73.93"/><line x1="398.60" y1="68.32" x2="394.60" y2="68.32"/><line x1="398.60" y1="62.71" x2="396.50" y2="62.71"/><line x1="398.60" y1="57.11" x2="396.50" y2="57.11"/><line x1="398.60" y1="51.50" x2="396.50" y2="51.50"/><line x1="398.60" y1="45.89" x2="396.50" y2="45.89"/><line x1="398.60" y1="40.29" x2="394.60" y2="40.29"/><line x1="398.60" y1="34.68" x2="396.50" y2="34.68"/><line x1="398.60" y1="29.07" x2="396.50" y2="29.07"/><line x1="398.60" y1="23.46" x2="396.50" y2="23.46"/><line x1="398.60" y1="17.86" x2="396.50" y2="17.86"/><line x1="398.60" y1="12.25" x2="394.60" y2="12.25"/></g>
<text x="77.3" y="211.80" text-anchor="end" font-size="14">0</text>
<text x="77.3" y="183.80" text-anchor="end" font-size="14">10</text>
<text x="77.3" y="155.80" text-anchor="end" font-size="14">20</text>
<text x="77.3" y="127.80" text-anchor="end" font-size="14">30</text>
<text x="77.3" y="99.80" text-anchor="end" font-size="14">40</text>
<text x="77.3" y="71.80" text-anchor="end" font-size="14">50</text>
<text x="77.3" y="43.80" text-anchor="end" font-size="14">60</text>
<text x="77.3" y="15.80" text-anchor="end" font-size="14">70</text>
<text x="392.6" y="195.7" text-anchor="end" font-size="17.5" fill="#0000a8">f=100Mp</text>
<text transform="translate(47.5,110) rotate(-90)" text-anchor="middle" font-size="19.5"><tspan font-style="italic">N</tspan><tspan font-size="14" dx="-1.4" dy="3.7">re</tspan></text>
<rect x="80.3" y="205.70" width="345" height="250.00" fill="#fff"/>
<rect x="0" y="209.7" width="81" height="246" fill="#fff"/>
<rect x="87.00" y="350.90" width="305.20" height="51.35" fill="#ccffcc"/>
<rect x="87.00" y="392.10" width="305.20" height="10.15" fill="#a0cba0"/>
<rect x="178.7" y="206.30" width="94.3" height="145.30" fill="#fad2ea"/>
<rect x="218.2" y="206.30" width="15.4" height="145.30" fill="#b494d5"/>
<path d="M85.96 292.48 L86.76 292.10 L87.56 291.73 L88.37 291.36 L89.17 290.98 L89.98 290.60 L90.78 290.22 L91.58 289.84 L92.39 289.46 L93.19 289.07 L93.99 288.68 L94.80 288.30 L95.60 287.91 L96.41 287.51 L97.21 287.12 L98.01 286.73 L98.82 286.33 L99.62 285.93 L100.43 285.53 L101.23 285.13 L102.03 284.72 L102.84 284.32 L103.64 283.91 L104.44 283.50 L105.25 283.09 L106.05 282.68 L106.86 282.26 L107.66 281.85 L108.46 281.43 L109.27 281.01 L110.07 280.59 L110.87 280.16 L111.68 279.74 L112.48 279.31 L113.29 278.88 L114.09 278.45 L114.89 278.01 L115.70 277.58 L116.50 277.14 L117.31 276.70 L118.11 276.26 L118.91 275.81 L119.72 275.37 L120.52 274.92 L121.32 274.47 L122.13 274.02 L122.93 273.56 L123.74 273.11 L124.54 272.65 L125.34 272.19 L126.15 271.72 L126.95 271.26 L127.76 270.79 L128.56 270.32 L129.36 269.85 L130.17 269.37 L130.97 268.90 L131.77 268.42 L132.58 267.94 L133.38 267.46 L134.19 266.97 L134.99 266.48 L135.79 265.99 L136.60 265.50 L137.40 265.00 L138.21 264.51 L139.01 264.01 L139.81 263.50 L140.62 263.00 L141.42 262.49 L142.22 261.98 L143.03 261.47 L143.83 260.95 L144.64 260.44 L145.44 259.92 L146.24 259.39 L147.05 258.87 L147.85 258.34 L148.66 257.81 L149.46 257.27 L150.26 256.74 L151.07 256.20 L151.87 255.66 L152.67 255.11 L153.48 254.57 L154.28 254.02 L155.09 253.46 L155.89 252.91 L156.69 252.35 L157.50 251.79 L158.30 251.22 L159.11 250.66 L159.91 250.08 L160.71 249.51 L161.52 248.93 L162.32 248.36 L163.12 247.77 L163.93 247.19 L164.73 246.60 L165.54 246.01 L166.34 245.41 L167.14 244.81 L167.95 244.21 L168.75 243.61 L169.56 243.00 L170.36 242.39 L171.16 241.77 L171.97 241.16 L172.77 240.53 L173.57 239.91 L174.38 239.28 L175.18 238.65 L175.99 238.02 L176.79 237.38 L177.59 236.73 L178.40 236.09 L179.20 235.44 L180.01 234.79 L180.81 234.13 L181.61 233.47 L182.42 232.81 L183.22 232.14 L184.02 231.47 L184.83 230.79 L185.63 230.11 L186.44 229.43 L187.24 228.74 L188.04 228.05 L188.85 227.35 L189.65 226.66 L190.45 225.95 L191.26 225.25 L192.06 224.53 L192.87 223.82 L193.67 223.10 L194.47 222.37 L195.28 221.65 L196.08 220.91 L196.89 220.18 L197.69 219.44 L198.49 218.69 L199.30 217.94 L200.10 217.19 L200.90 216.43 L201.71 215.66 L202.51 214.89 L203.32 214.12 L204.12 213.34 L204.92 212.56 L205.73 211.77 L206.53 210.98 L207.34 210.18 L208.14 209.38 L208.94 208.57 L209.75 207.76 L210.55 206.94 L211.18 206.30" fill="none" stroke="#ff0000" stroke-width="3.4"/>
<path d="M119.19 403.55 L119.74 402.63 L120.32 401.66 L120.89 400.70 L121.46 399.73 L122.03 398.75 L122.60 397.78 L123.18 396.80 L123.75 395.81 L124.32 394.83 L124.89 393.84 L125.46 392.85 L126.04 391.85 L126.61 390.85 L127.18 389.85 L127.75 388.84 L128.32 387.83 L128.90 386.82 L129.47 385.80 L130.04 384.78 L130.61 383.76 L131.18 382.73 L131.76 381.70 L132.33 380.67 L132.90 379.63 L133.47 378.59 L134.04 377.55 L134.62 376.50 L135.19 375.45 L135.76 374.39 L136.33 373.33 L136.90 372.27 L137.48 371.21 L138.05 370.14 L138.62 369.06 L139.19 367.98 L139.76 366.90 L140.34 365.82 L140.91 364.73 L141.48 363.64 L142.05 362.54 L142.62 361.44 L143.20 360.34 L143.77 359.23 L144.34 358.12 L144.91 357.00 L145.48 355.88 L146.06 354.76 L146.63 353.63 L147.20 352.50 L147.77 351.36 L148.34 350.22 L148.92 349.08 L149.49 347.93 L150.06 346.78 L150.63 345.62 L151.20 344.46 L151.78 343.30 L152.35 342.13 L152.92 340.96 L153.49 339.78 L154.07 338.60 L154.64 337.41 L155.21 336.22 L155.78 335.03 L156.35 333.83 L156.93 332.62 L157.50 331.42 L158.07 330.20 L158.64 328.99 L159.21 327.77 L159.79 326.54 L160.36 325.31 L160.93 324.07 L161.50 322.83 L162.07 321.59 L162.65 320.34 L163.22 319.09 L163.79 317.83 L164.36 316.57 L164.93 315.30 L165.51 314.02 L166.08 312.75 L166.65 311.46 L167.22 310.18 L167.79 308.89 L168.37 307.59 L168.94 306.29 L169.51 304.98 L170.08 303.67 L170.65 302.35 L171.23 301.03 L171.80 299.70 L172.37 298.37 L172.94 297.03 L173.51 295.69 L174.09 294.34 L174.66 292.99 L175.23 291.63 L175.80 290.26 L176.37 288.89 L176.95 287.52 L177.52 286.14 L178.09 284.75 L178.66 283.36 L179.23 281.97 L179.81 280.57 L180.38 279.16 L180.95 277.74 L181.52 276.33 L182.09 274.90 L182.67 273.47 L183.24 272.03 L183.81 270.59 L184.38 269.15 L184.95 267.69 L185.53 266.23 L186.10 264.77 L186.67 263.30 L187.24 261.82 L187.81 260.34 L188.39 258.85 L188.96 257.35 L189.53 255.85 L190.10 254.34 L190.67 252.83 L191.25 251.31 L191.82 249.78 L192.39 248.25 L192.96 246.71 L193.53 245.16 L194.11 243.61 L194.68 242.05 L195.25 240.49 L195.82 238.92 L196.39 237.34 L196.97 235.75 L197.54 234.16 L198.11 232.56 L198.68 230.96 L199.26 229.35 L199.83 227.73 L200.40 226.10 L200.97 224.47 L201.54 222.83 L202.12 221.18 L202.69 219.53 L203.26 217.87 L203.83 216.20 L204.40 214.52 L204.98 212.84 L205.55 211.15 L206.12 209.45 L206.69 207.75 L207.17 206.30" fill="none" stroke="#00be00" stroke-width="3.3" stroke-dasharray="7.5 1.0"/>
<path d="M203.91 206.30 L204.14 207.39 L204.37 208.51 L204.59 209.64 L204.82 210.77 L205.05 211.90 L205.28 213.03 L205.51 214.16 L205.74 215.30 L205.97 216.43 L206.20 217.57 L206.42 218.71 L206.65 219.86 L206.88 221.00 L207.11 222.15 L207.34 223.30 L207.57 224.45 L207.80 225.60 L208.03 226.76 L208.25 227.91 L208.48 229.07 L208.71 230.23 L208.94 231.40 L209.17 232.56 L209.40 233.73 L209.63 234.90 L209.86 236.07 L210.09 237.24 L210.31 238.42 L210.54 239.60 L210.77 240.78 L211.00 241.96 L211.23 243.14 L211.46 244.33 L211.69 245.52 L211.92 246.71 L212.14 247.90 L212.37 249.10 L212.60 250.29 L212.83 251.49 L213.06 252.69 L213.29 253.90 L213.52 255.10 L213.75 256.31 L213.98 257.52 L214.20 258.73 L214.43 259.94 L214.66 261.16 L214.89 262.38 L215.12 263.60 L215.35 264.82 L215.58 266.05 L215.81 267.27 L216.03 268.50 L216.26 269.74 L216.49 270.97 L216.72 272.21 L216.95 273.44 L217.18 274.68 L217.41 275.93 L217.64 277.17 L217.86 278.42 L218.09 279.67 L218.32 280.92 L218.55 282.18 L218.78 283.43 L219.01 284.69 L219.24 285.95 L219.47 287.22 L219.70 288.48 L219.92 289.75 L220.15 291.02 L220.38 292.29 L220.61 293.57 L220.84 294.85 L221.07 296.13 L221.30 297.41 L221.53 298.69 L221.75 299.98 L221.98 301.27 L222.21 302.56 L222.44 303.86 L222.67 305.15 L222.90 306.45 L223.13 307.75 L223.36 309.06 L223.59 310.36 L223.81 311.67 L224.04 312.98 L224.27 314.30 L224.50 315.61 L224.73 316.93 L224.96 318.25 L225.19 319.58 L225.42 320.90 L225.64 322.23 L225.87 323.56 L226.10 324.90 L226.33 326.23 L226.56 327.57 L226.79 328.91 L227.02 330.26 L227.25 331.60 L227.47 332.95 L227.70 334.30 L227.93 335.66 L228.16 337.01 L228.39 338.37 L228.62 339.73 L228.85 341.10 L229.08 342.46 L229.31 343.83 L229.53 345.21 L229.76 346.58 L229.99 347.96 L230.22 349.34 L230.45 350.72 L230.68 352.11 L230.91 353.49 L231.14 354.89 L231.36 356.28 L231.59 357.67 L231.82 359.07 L232.05 360.48 L232.28 361.88 L232.51 363.29 L232.74 364.70 L232.97 366.11 L233.20 367.52 L233.42 368.94 L233.65 370.36 L233.88 371.79 L234.11 373.21 L234.34 374.64 L234.57 376.07 L234.80 377.51 L235.03 378.94 L235.25 380.38 L235.48 381.83 L235.71 383.27 L235.94 384.72 L236.17 386.17 L236.40 387.63 L236.63 389.09 L236.86 390.55 L237.08 392.01 L237.31 393.47 L237.54 394.94 L237.77 396.41 L238.00 397.89 L238.23 399.37 L238.46 400.85 L238.69 402.33 L238.87 403.55" fill="none" stroke="#0000ff" stroke-width="3.3" stroke-dasharray="4.4 1.0"/>
<path d="M203.09 206.30 L203.41 207.24 L203.75 208.25 L204.10 209.26 L204.44 210.27 L204.78 211.28 L205.13 212.30 L205.47 213.32 L205.81 214.35 L206.16 215.37 L206.50 216.40 L206.84 217.43 L207.19 218.46 L207.53 219.50 L207.87 220.54 L208.22 221.58 L208.56 222.63 L208.90 223.67 L209.25 224.72 L209.59 225.78 L209.93 226.83 L210.28 227.89 L210.62 228.95 L210.96 230.02 L211.31 231.08 L211.65 232.15 L211.99 233.23 L212.34 234.30 L212.68 235.38 L213.02 236.46 L213.36 237.54 L213.71 238.63 L214.05 239.72 L214.39 240.82 L214.74 241.91 L215.08 243.01 L215.42 244.11 L215.77 245.22 L216.11 246.32 L216.45 247.44 L216.80 248.55 L217.14 249.67 L217.48 250.79 L217.83 251.91 L218.17 253.04 L218.51 254.17 L218.86 255.30 L219.20 256.43 L219.54 257.57 L219.89 258.71 L220.23 259.86 L220.57 261.01 L220.92 262.16 L221.26 263.31 L221.60 264.47 L221.95 265.63 L222.29 266.79 L222.63 267.96 L222.98 269.13 L223.32 270.31 L223.66 271.48 L224.00 272.66 L224.35 273.85 L224.69 275.03 L225.03 276.23 L225.38 277.42 L225.72 278.62 L226.06 279.82 L226.41 281.02 L226.75 282.23 L227.09 283.44 L227.44 284.65 L227.78 285.87 L228.12 287.09 L228.47 288.32 L228.81 289.55 L229.15 290.78 L229.50 292.01 L229.84 293.25 L230.18 294.49 L230.53 295.74 L230.87 296.99 L231.21 298.24 L231.56 299.50 L231.90 300.76 L232.24 302.02 L232.59 303.29 L232.93 304.56 L233.27 305.84 L233.61 307.12 L233.96 308.40 L234.30 309.68 L234.64 310.97 L234.99 312.27 L235.33 313.57 L235.67 314.87 L236.02 316.17 L236.36 317.48 L236.70 318.80 L237.05 320.11 L237.39 321.43 L237.73 322.76 L238.08 324.09 L238.42 325.42 L238.76 326.76 L239.11 328.10 L239.45 329.44 L239.79 330.79 L240.14 332.14 L240.48 333.50 L240.82 334.86 L241.17 336.23 L241.51 337.60 L241.85 338.97 L242.20 340.35 L242.54 341.73 L242.88 343.11 L243.22 344.50 L243.57 345.90 L243.91 347.30 L244.25 348.70 L244.60 350.11 L244.94 351.52 L245.28 352.93 L245.63 354.35 L245.97 355.78 L246.31 357.21 L246.66 358.64 L247.00 360.08 L247.34 361.52 L247.69 362.97 L248.03 364.42 L248.37 365.87 L248.72 367.34 L249.06 368.80 L249.40 370.27 L249.75 371.74 L250.09 373.22 L250.43 374.71 L250.78 376.19 L251.12 377.69 L251.46 379.18 L251.81 380.69 L252.15 382.19 L252.49 383.70 L252.83 385.22 L253.18 386.74 L253.52 388.27 L253.86 389.80 L254.21 391.34 L254.55 392.88 L254.89 394.42 L255.24 395.97 L255.58 397.53 L255.92 399.09 L256.27 400.66 L256.61 402.23 L256.90 403.55" fill="none" stroke="#000000" stroke-width="3.3" stroke-dasharray="8.0 1.1 4.5 1.1"/>
<rect x="80.90" y="206.30" width="317.70" height="195.95" fill="none" stroke="#000" stroke-width="1.15"/>
<line x1="80.90" y1="208.50" x2="398.60" y2="208.50" stroke="#000" stroke-width="1.15"/>
<g stroke="#000" stroke-width="1.2"><line x1="87.10" y1="208.50" x2="87.10" y2="204.90"/><line x1="102.35" y1="208.50" x2="102.35" y2="206.30"/><line x1="117.61" y1="208.50" x2="117.61" y2="206.30"/><line x1="132.86" y1="208.50" x2="132.86" y2="206.30"/><line x1="148.12" y1="208.50" x2="148.12" y2="206.30"/><line x1="163.37" y1="208.50" x2="163.37" y2="204.90"/><line x1="178.62" y1="208.50" x2="178.62" y2="206.30"/><line x1="193.88" y1="208.50" x2="193.88" y2="206.30"/><line x1="209.13" y1="208.50" x2="209.13" y2="206.30"/><line x1="224.39" y1="208.50" x2="224.39" y2="206.30"/><line x1="239.64" y1="208.50" x2="239.64" y2="204.90"/><line x1="254.89" y1="208.50" x2="254.89" y2="206.30"/><line x1="270.15" y1="208.50" x2="270.15" y2="206.30"/><line x1="285.40" y1="208.50" x2="285.40" y2="206.30"/><line x1="300.66" y1="208.50" x2="300.66" y2="206.30"/><line x1="315.91" y1="208.50" x2="315.91" y2="204.90"/><line x1="331.16" y1="208.50" x2="331.16" y2="206.30"/><line x1="346.42" y1="208.50" x2="346.42" y2="206.30"/><line x1="361.67" y1="208.50" x2="361.67" y2="206.30"/><line x1="376.93" y1="208.50" x2="376.93" y2="206.30"/><line x1="392.18" y1="208.50" x2="392.18" y2="204.90"/></g>
<g stroke="#000" stroke-width="1.2"><line x1="87.10" y1="206.30" x2="87.10" y2="210.30"/><line x1="102.35" y1="206.30" x2="102.35" y2="208.50"/><line x1="117.61" y1="206.30" x2="117.61" y2="208.50"/><line x1="132.86" y1="206.30" x2="132.86" y2="208.50"/><line x1="148.12" y1="206.30" x2="148.12" y2="208.50"/><line x1="163.37" y1="206.30" x2="163.37" y2="210.30"/><line x1="178.62" y1="206.30" x2="178.62" y2="208.50"/><line x1="193.88" y1="206.30" x2="193.88" y2="208.50"/><line x1="209.13" y1="206.30" x2="209.13" y2="208.50"/><line x1="224.39" y1="206.30" x2="224.39" y2="208.50"/><line x1="239.64" y1="206.30" x2="239.64" y2="210.30"/><line x1="254.89" y1="206.30" x2="254.89" y2="208.50"/><line x1="270.15" y1="206.30" x2="270.15" y2="208.50"/><line x1="285.40" y1="206.30" x2="285.40" y2="208.50"/><line x1="300.66" y1="206.30" x2="300.66" y2="208.50"/><line x1="315.91" y1="206.30" x2="315.91" y2="210.30"/><line x1="331.16" y1="206.30" x2="331.16" y2="208.50"/><line x1="346.42" y1="206.30" x2="346.42" y2="208.50"/><line x1="361.67" y1="206.30" x2="361.67" y2="208.50"/><line x1="376.93" y1="206.30" x2="376.93" y2="208.50"/><line x1="392.18" y1="206.30" x2="392.18" y2="210.30"/></g>
<g stroke="#000" stroke-width="1.2"><line x1="87.10" y1="402.25" x2="87.10" y2="398.85"/><line x1="102.35" y1="402.25" x2="102.35" y2="400.15"/><line x1="117.61" y1="402.25" x2="117.61" y2="400.15"/><line x1="132.86" y1="402.25" x2="132.86" y2="400.15"/><line x1="148.12" y1="402.25" x2="148.12" y2="400.15"/><line x1="163.37" y1="402.25" x2="163.37" y2="398.85"/><line x1="178.62" y1="402.25" x2="178.62" y2="400.15"/><line x1="193.88" y1="402.25" x2="193.88" y2="400.15"/><line x1="209.13" y1="402.25" x2="209.13" y2="400.15"/><line x1="224.39" y1="402.25" x2="224.39" y2="400.15"/><line x1="239.64" y1="402.25" x2="239.64" y2="398.85"/><line x1="254.89" y1="402.25" x2="254.89" y2="400.15"/><line x1="270.15" y1="402.25" x2="270.15" y2="400.15"/><line x1="285.40" y1="402.25" x2="285.40" y2="400.15"/><line x1="300.66" y1="402.25" x2="300.66" y2="400.15"/><line x1="315.91" y1="402.25" x2="315.91" y2="398.85"/><line x1="331.16" y1="402.25" x2="331.16" y2="400.15"/><line x1="346.42" y1="402.25" x2="346.42" y2="400.15"/><line x1="361.67" y1="402.25" x2="361.67" y2="400.15"/><line x1="376.93" y1="402.25" x2="376.93" y2="400.15"/><line x1="392.18" y1="402.25" x2="392.18" y2="398.85"/></g>
<g stroke="#555" stroke-width="0.8"><line x1="80.90" y1="392.55" x2="84.10" y2="392.55"/><line x1="80.90" y1="371.89" x2="82.90" y2="371.89"/><line x1="80.90" y1="351.24" x2="84.10" y2="351.24"/><line x1="80.90" y1="330.58" x2="82.90" y2="330.58"/><line x1="80.90" y1="309.93" x2="84.10" y2="309.93"/><line x1="80.90" y1="289.27" x2="82.90" y2="289.27"/><line x1="80.90" y1="268.62" x2="84.10" y2="268.62"/><line x1="80.90" y1="247.96" x2="82.90" y2="247.96"/><line x1="80.90" y1="227.31" x2="84.10" y2="227.31"/></g>
<g stroke="#555" stroke-width="0.8"><line x1="398.60" y1="392.55" x2="395.40" y2="392.55"/><line x1="398.60" y1="371.89" x2="396.60" y2="371.89"/><line x1="398.60" y1="351.24" x2="395.40" y2="351.24"/><line x1="398.60" y1="330.58" x2="396.60" y2="330.58"/><line x1="398.60" y1="309.93" x2="395.40" y2="309.93"/><line x1="398.60" y1="289.27" x2="396.60" y2="289.27"/><line x1="398.60" y1="268.62" x2="395.40" y2="268.62"/><line x1="398.60" y1="247.96" x2="396.60" y2="247.96"/><line x1="398.60" y1="227.31" x2="395.40" y2="227.31"/></g>
<text x="87.10" y="417" text-anchor="middle" font-size="14">0.95</text>
<text x="163.37" y="417" text-anchor="middle" font-size="14">0.96</text>
<text x="239.64" y="417" text-anchor="middle" font-size="14">0.97</text>
<text x="315.91" y="417" text-anchor="middle" font-size="14">0.98</text>
<text x="392.18" y="417" text-anchor="middle" font-size="14">0.99</text>
<text x="76.9" y="233.00" text-anchor="end" font-size="14">10<tspan font-size="10.3" dy="-6.3">14</tspan></text>
<text x="76.9" y="274.30" text-anchor="end" font-size="14">10<tspan font-size="10.3" dy="-6.3">10</tspan></text>
<text x="76.9" y="315.70" text-anchor="end" font-size="14">10<tspan font-size="10.3" dy="-6.3">6</tspan></text>
<text x="76.9" y="354.99" text-anchor="end" font-size="14">100.00</text>
<text x="76.9" y="396.30" text-anchor="end" font-size="14">0.01</text>
<text transform="translate(20.6,304) rotate(-90)" text-anchor="middle" font-size="19.5"><tspan font-style="italic">T</tspan><tspan font-size="14" dx="-0.7" dy="3.5">re</tspan><tspan dy="-3.5"> [GeV]</tspan></text>
<text x="239.8" y="442.3" text-anchor="middle" font-size="19.5"><tspan font-style="italic">n</tspan><tspan font-style="italic" font-size="14.5" dy="3.2">s</tspan></text>
</g>
</svg>
</body></html>
